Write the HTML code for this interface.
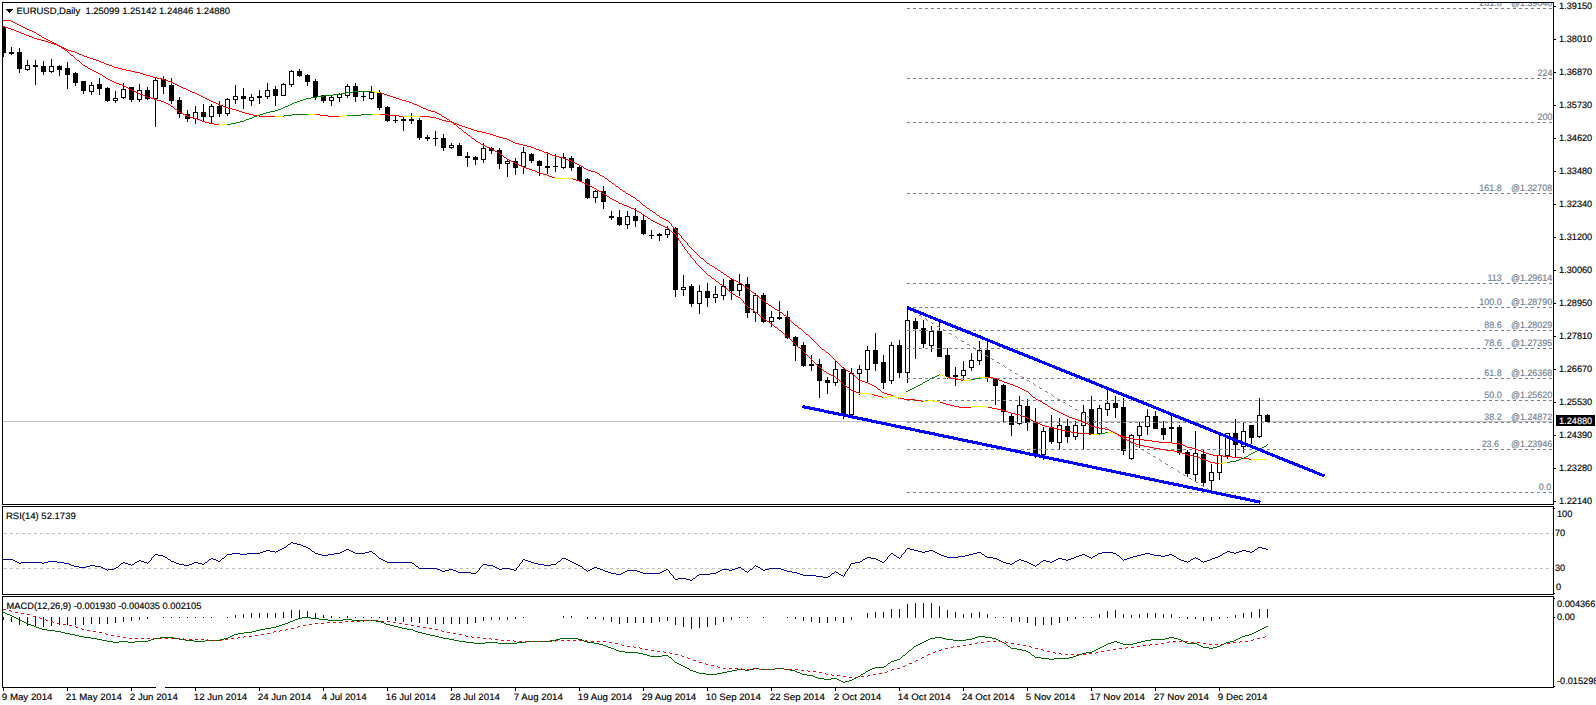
<!DOCTYPE html>
<html lang="en"><head><meta charset="utf-8"><title>EURUSD Daily</title>
<style>html,body{margin:0;padding:0;background:#fff;overflow:hidden}svg{display:block}</style>
</head><body>
<svg width="1596" height="705" viewBox="0 0 1596 705" font-family='"Liberation Sans", sans-serif' shape-rendering="crispEdges" text-rendering="geometricPrecision" stroke-width="0.15">
<rect width="1596" height="705" fill="#fff"/>
<g id="main">
<rect x="3" y="421" width="1551" height="1" fill="#c0c0c0" />
<rect x="3" y="27" width="1" height="30" fill="#000"/>
<rect x="1" y="27" width="5" height="26" fill="#000"/>
<rect x="11" y="47" width="1" height="8" fill="#000"/>
<rect x="9" y="52" width="5" height="2" fill="#000"/>
<rect x="19" y="48" width="1" height="25" fill="#000"/>
<rect x="17" y="52" width="5" height="17" fill="#000"/>
<rect x="27" y="60" width="1" height="11" fill="#000"/>
<rect x="25" y="65" width="5" height="5" fill="#000"/>
<rect x="26" y="66" width="3" height="3" fill="#fff"/>
<rect x="35" y="60" width="1" height="25" fill="#000"/>
<rect x="33" y="65" width="5" height="2" fill="#000"/>
<rect x="43" y="61" width="1" height="14" fill="#000"/>
<rect x="41" y="66" width="5" height="6" fill="#000"/>
<rect x="51" y="59" width="1" height="14" fill="#000"/>
<rect x="49" y="66" width="5" height="6" fill="#000"/>
<rect x="50" y="67" width="3" height="4" fill="#fff"/>
<rect x="59" y="65" width="1" height="11" fill="#000"/>
<rect x="57" y="66" width="5" height="4" fill="#000"/>
<rect x="67" y="62" width="1" height="27" fill="#000"/>
<rect x="65" y="68" width="5" height="7" fill="#000"/>
<rect x="75" y="72" width="1" height="14" fill="#000"/>
<rect x="73" y="73" width="5" height="10" fill="#000"/>
<rect x="83" y="81" width="1" height="13" fill="#000"/>
<rect x="81" y="81" width="5" height="10" fill="#000"/>
<rect x="91" y="82" width="1" height="13" fill="#000"/>
<rect x="89" y="85" width="5" height="7" fill="#000"/>
<rect x="90" y="86" width="3" height="5" fill="#fff"/>
<rect x="99" y="78" width="1" height="17" fill="#000"/>
<rect x="97" y="84" width="5" height="5" fill="#000"/>
<rect x="107" y="87" width="1" height="15" fill="#000"/>
<rect x="105" y="88" width="5" height="13" fill="#000"/>
<rect x="115" y="91" width="1" height="12" fill="#000"/>
<rect x="113" y="98" width="5" height="3" fill="#000"/>
<rect x="114" y="99" width="3" height="1" fill="#fff"/>
<rect x="123" y="83" width="1" height="16" fill="#000"/>
<rect x="121" y="89" width="5" height="9" fill="#000"/>
<rect x="122" y="90" width="3" height="7" fill="#fff"/>
<rect x="131" y="87" width="1" height="15" fill="#000"/>
<rect x="129" y="87" width="5" height="13" fill="#000"/>
<rect x="139" y="84" width="1" height="18" fill="#000"/>
<rect x="137" y="90" width="5" height="10" fill="#000"/>
<rect x="138" y="91" width="3" height="8" fill="#fff"/>
<rect x="147" y="87" width="1" height="13" fill="#000"/>
<rect x="145" y="90" width="5" height="9" fill="#000"/>
<rect x="155" y="77" width="1" height="50" fill="#000"/>
<rect x="153" y="80" width="5" height="19" fill="#000"/>
<rect x="154" y="81" width="3" height="17" fill="#fff"/>
<rect x="163" y="76" width="1" height="18" fill="#000"/>
<rect x="161" y="79" width="5" height="8" fill="#000"/>
<rect x="171" y="78" width="1" height="26" fill="#000"/>
<rect x="169" y="85" width="5" height="16" fill="#000"/>
<rect x="179" y="97" width="1" height="21" fill="#000"/>
<rect x="177" y="100" width="5" height="14" fill="#000"/>
<rect x="187" y="110" width="1" height="12" fill="#000"/>
<rect x="185" y="114" width="5" height="5" fill="#000"/>
<rect x="195" y="106" width="1" height="18" fill="#000"/>
<rect x="193" y="112" width="5" height="7" fill="#000"/>
<rect x="194" y="113" width="3" height="5" fill="#fff"/>
<rect x="203" y="104" width="1" height="17" fill="#000"/>
<rect x="201" y="112" width="5" height="5" fill="#000"/>
<rect x="211" y="104" width="1" height="20" fill="#000"/>
<rect x="209" y="106" width="5" height="11" fill="#000"/>
<rect x="210" y="107" width="3" height="9" fill="#fff"/>
<rect x="219" y="101" width="1" height="16" fill="#000"/>
<rect x="217" y="106" width="5" height="8" fill="#000"/>
<rect x="227" y="98" width="1" height="18" fill="#000"/>
<rect x="225" y="99" width="5" height="15" fill="#000"/>
<rect x="226" y="100" width="3" height="13" fill="#fff"/>
<rect x="235" y="85" width="1" height="19" fill="#000"/>
<rect x="233" y="96" width="5" height="4" fill="#000"/>
<rect x="234" y="97" width="3" height="2" fill="#fff"/>
<rect x="243" y="88" width="1" height="21" fill="#000"/>
<rect x="241" y="96" width="5" height="3" fill="#000"/>
<rect x="251" y="94" width="1" height="12" fill="#000"/>
<rect x="249" y="97" width="5" height="4" fill="#000"/>
<rect x="250" y="98" width="3" height="2" fill="#fff"/>
<rect x="259" y="90" width="1" height="14" fill="#000"/>
<rect x="257" y="96" width="5" height="2" fill="#000"/>
<rect x="267" y="83" width="1" height="16" fill="#000"/>
<rect x="265" y="90" width="5" height="7" fill="#000"/>
<rect x="266" y="91" width="3" height="5" fill="#fff"/>
<rect x="275" y="86" width="1" height="20" fill="#000"/>
<rect x="273" y="89" width="5" height="7" fill="#000"/>
<rect x="283" y="83" width="1" height="13" fill="#000"/>
<rect x="281" y="84" width="5" height="12" fill="#000"/>
<rect x="282" y="85" width="3" height="10" fill="#fff"/>
<rect x="291" y="70" width="1" height="17" fill="#000"/>
<rect x="289" y="71" width="5" height="14" fill="#000"/>
<rect x="290" y="72" width="3" height="12" fill="#fff"/>
<rect x="299" y="69" width="1" height="8" fill="#000"/>
<rect x="297" y="71" width="5" height="5" fill="#000"/>
<rect x="307" y="74" width="1" height="12" fill="#000"/>
<rect x="305" y="75" width="5" height="7" fill="#000"/>
<rect x="315" y="79" width="1" height="21" fill="#000"/>
<rect x="313" y="81" width="5" height="16" fill="#000"/>
<rect x="323" y="95" width="1" height="8" fill="#000"/>
<rect x="321" y="95" width="5" height="6" fill="#000"/>
<rect x="331" y="96" width="1" height="10" fill="#000"/>
<rect x="329" y="97" width="5" height="4" fill="#000"/>
<rect x="330" y="98" width="3" height="2" fill="#fff"/>
<rect x="339" y="93" width="1" height="9" fill="#000"/>
<rect x="337" y="94" width="5" height="4" fill="#000"/>
<rect x="338" y="95" width="3" height="2" fill="#fff"/>
<rect x="347" y="84" width="1" height="14" fill="#000"/>
<rect x="345" y="86" width="5" height="10" fill="#000"/>
<rect x="346" y="87" width="3" height="8" fill="#fff"/>
<rect x="355" y="83" width="1" height="19" fill="#000"/>
<rect x="353" y="86" width="5" height="11" fill="#000"/>
<rect x="363" y="91" width="1" height="10" fill="#000"/>
<rect x="361" y="96" width="5" height="1" fill="#000"/>
<rect x="371" y="86" width="1" height="14" fill="#000"/>
<rect x="369" y="92" width="5" height="7" fill="#000"/>
<rect x="370" y="93" width="3" height="5" fill="#fff"/>
<rect x="379" y="90" width="1" height="20" fill="#000"/>
<rect x="377" y="93" width="5" height="15" fill="#000"/>
<rect x="387" y="106" width="1" height="16" fill="#000"/>
<rect x="385" y="107" width="5" height="14" fill="#000"/>
<rect x="395" y="115" width="1" height="8" fill="#000"/>
<rect x="393" y="120" width="5" height="1" fill="#000"/>
<rect x="403" y="117" width="1" height="14" fill="#000"/>
<rect x="401" y="119" width="5" height="2" fill="#000"/>
<rect x="411" y="113" width="1" height="11" fill="#000"/>
<rect x="409" y="119" width="5" height="2" fill="#000"/>
<rect x="419" y="118" width="1" height="22" fill="#000"/>
<rect x="417" y="120" width="5" height="18" fill="#000"/>
<rect x="427" y="135" width="1" height="6" fill="#000"/>
<rect x="425" y="137" width="5" height="2" fill="#000"/>
<rect x="435" y="131" width="1" height="15" fill="#000"/>
<rect x="433" y="138" width="5" height="1" fill="#000"/>
<rect x="443" y="134" width="1" height="17" fill="#000"/>
<rect x="441" y="138" width="5" height="10" fill="#000"/>
<rect x="451" y="143" width="1" height="6" fill="#000"/>
<rect x="449" y="145" width="5" height="3" fill="#000"/>
<rect x="450" y="146" width="3" height="1" fill="#fff"/>
<rect x="459" y="143" width="1" height="13" fill="#000"/>
<rect x="457" y="145" width="5" height="11" fill="#000"/>
<rect x="467" y="152" width="1" height="15" fill="#000"/>
<rect x="465" y="156" width="5" height="2" fill="#000"/>
<rect x="475" y="156" width="1" height="9" fill="#000"/>
<rect x="473" y="157" width="5" height="3" fill="#000"/>
<rect x="483" y="143" width="1" height="20" fill="#000"/>
<rect x="481" y="148" width="5" height="12" fill="#000"/>
<rect x="482" y="149" width="3" height="10" fill="#fff"/>
<rect x="491" y="147" width="1" height="7" fill="#000"/>
<rect x="489" y="148" width="5" height="3" fill="#000"/>
<rect x="499" y="148" width="1" height="21" fill="#000"/>
<rect x="497" y="150" width="5" height="14" fill="#000"/>
<rect x="507" y="160" width="1" height="17" fill="#000"/>
<rect x="505" y="161" width="5" height="3" fill="#000"/>
<rect x="506" y="162" width="3" height="1" fill="#fff"/>
<rect x="515" y="158" width="1" height="17" fill="#000"/>
<rect x="513" y="161" width="5" height="7" fill="#000"/>
<rect x="523" y="147" width="1" height="27" fill="#000"/>
<rect x="521" y="152" width="5" height="15" fill="#000"/>
<rect x="522" y="153" width="3" height="13" fill="#fff"/>
<rect x="531" y="153" width="1" height="10" fill="#000"/>
<rect x="529" y="154" width="5" height="7" fill="#000"/>
<rect x="539" y="160" width="1" height="16" fill="#000"/>
<rect x="537" y="161" width="5" height="5" fill="#000"/>
<rect x="547" y="152" width="1" height="22" fill="#000"/>
<rect x="545" y="166" width="5" height="2" fill="#000"/>
<rect x="555" y="154" width="1" height="18" fill="#000"/>
<rect x="553" y="166" width="5" height="1" fill="#000"/>
<rect x="563" y="153" width="1" height="16" fill="#000"/>
<rect x="561" y="157" width="5" height="11" fill="#000"/>
<rect x="562" y="158" width="3" height="9" fill="#fff"/>
<rect x="571" y="156" width="1" height="15" fill="#000"/>
<rect x="569" y="158" width="5" height="10" fill="#000"/>
<rect x="579" y="166" width="1" height="15" fill="#000"/>
<rect x="577" y="167" width="5" height="14" fill="#000"/>
<rect x="587" y="178" width="1" height="21" fill="#000"/>
<rect x="585" y="179" width="5" height="19" fill="#000"/>
<rect x="595" y="190" width="1" height="13" fill="#000"/>
<rect x="593" y="191" width="5" height="7" fill="#000"/>
<rect x="594" y="192" width="3" height="5" fill="#fff"/>
<rect x="603" y="186" width="1" height="23" fill="#000"/>
<rect x="601" y="191" width="5" height="11" fill="#000"/>
<rect x="611" y="211" width="1" height="9" fill="#000"/>
<rect x="609" y="216" width="5" height="2" fill="#000"/>
<rect x="619" y="210" width="1" height="16" fill="#000"/>
<rect x="617" y="217" width="5" height="8" fill="#000"/>
<rect x="627" y="211" width="1" height="18" fill="#000"/>
<rect x="625" y="216" width="5" height="9" fill="#000"/>
<rect x="626" y="217" width="3" height="7" fill="#fff"/>
<rect x="635" y="208" width="1" height="19" fill="#000"/>
<rect x="633" y="216" width="5" height="5" fill="#000"/>
<rect x="643" y="215" width="1" height="20" fill="#000"/>
<rect x="641" y="220" width="5" height="14" fill="#000"/>
<rect x="651" y="230" width="1" height="9" fill="#000"/>
<rect x="649" y="235" width="5" height="1" fill="#000"/>
<rect x="659" y="233" width="1" height="8" fill="#000"/>
<rect x="657" y="234" width="5" height="2" fill="#000"/>
<rect x="667" y="226" width="1" height="12" fill="#000"/>
<rect x="665" y="229" width="5" height="6" fill="#000"/>
<rect x="666" y="230" width="3" height="4" fill="#fff"/>
<rect x="675" y="227" width="1" height="70" fill="#000"/>
<rect x="673" y="228" width="5" height="62" fill="#000"/>
<rect x="683" y="275" width="1" height="21" fill="#000"/>
<rect x="681" y="287" width="5" height="3" fill="#000"/>
<rect x="682" y="288" width="3" height="1" fill="#fff"/>
<rect x="691" y="284" width="1" height="23" fill="#000"/>
<rect x="689" y="286" width="5" height="18" fill="#000"/>
<rect x="699" y="285" width="1" height="29" fill="#000"/>
<rect x="697" y="291" width="5" height="13" fill="#000"/>
<rect x="698" y="292" width="3" height="11" fill="#fff"/>
<rect x="707" y="283" width="1" height="24" fill="#000"/>
<rect x="705" y="291" width="5" height="7" fill="#000"/>
<rect x="715" y="286" width="1" height="17" fill="#000"/>
<rect x="713" y="294" width="5" height="4" fill="#000"/>
<rect x="714" y="295" width="3" height="2" fill="#fff"/>
<rect x="723" y="279" width="1" height="21" fill="#000"/>
<rect x="721" y="286" width="5" height="10" fill="#000"/>
<rect x="722" y="287" width="3" height="8" fill="#fff"/>
<rect x="731" y="278" width="1" height="22" fill="#000"/>
<rect x="729" y="280" width="5" height="11" fill="#000"/>
<rect x="739" y="274" width="1" height="22" fill="#000"/>
<rect x="737" y="284" width="5" height="7" fill="#000"/>
<rect x="738" y="285" width="3" height="5" fill="#fff"/>
<rect x="747" y="277" width="1" height="41" fill="#000"/>
<rect x="745" y="284" width="5" height="29" fill="#000"/>
<rect x="755" y="293" width="1" height="29" fill="#000"/>
<rect x="753" y="295" width="5" height="18" fill="#000"/>
<rect x="754" y="296" width="3" height="16" fill="#fff"/>
<rect x="763" y="293" width="1" height="30" fill="#000"/>
<rect x="761" y="295" width="5" height="27" fill="#000"/>
<rect x="771" y="311" width="1" height="16" fill="#000"/>
<rect x="769" y="317" width="5" height="5" fill="#000"/>
<rect x="770" y="318" width="3" height="3" fill="#fff"/>
<rect x="779" y="301" width="1" height="19" fill="#000"/>
<rect x="777" y="317" width="5" height="2" fill="#000"/>
<rect x="787" y="311" width="1" height="28" fill="#000"/>
<rect x="785" y="317" width="5" height="21" fill="#000"/>
<rect x="795" y="336" width="1" height="25" fill="#000"/>
<rect x="793" y="337" width="5" height="9" fill="#000"/>
<rect x="803" y="342" width="1" height="25" fill="#000"/>
<rect x="801" y="345" width="5" height="21" fill="#000"/>
<rect x="811" y="355" width="1" height="16" fill="#000"/>
<rect x="809" y="364" width="5" height="2" fill="#000"/>
<rect x="819" y="359" width="1" height="39" fill="#000"/>
<rect x="817" y="364" width="5" height="17" fill="#000"/>
<rect x="827" y="377" width="1" height="17" fill="#000"/>
<rect x="825" y="380" width="5" height="3" fill="#000"/>
<rect x="835" y="360" width="1" height="26" fill="#000"/>
<rect x="833" y="369" width="5" height="14" fill="#000"/>
<rect x="834" y="370" width="3" height="12" fill="#fff"/>
<rect x="843" y="367" width="1" height="52" fill="#000"/>
<rect x="841" y="369" width="5" height="45" fill="#000"/>
<rect x="851" y="368" width="1" height="47" fill="#000"/>
<rect x="849" y="373" width="5" height="42" fill="#000"/>
<rect x="850" y="374" width="3" height="40" fill="#fff"/>
<rect x="859" y="365" width="1" height="30" fill="#000"/>
<rect x="857" y="369" width="5" height="5" fill="#000"/>
<rect x="858" y="370" width="3" height="3" fill="#fff"/>
<rect x="867" y="346" width="1" height="37" fill="#000"/>
<rect x="865" y="350" width="5" height="20" fill="#000"/>
<rect x="866" y="351" width="3" height="18" fill="#fff"/>
<rect x="875" y="333" width="1" height="38" fill="#000"/>
<rect x="873" y="350" width="5" height="14" fill="#000"/>
<rect x="883" y="355" width="1" height="34" fill="#000"/>
<rect x="881" y="362" width="5" height="21" fill="#000"/>
<rect x="891" y="342" width="1" height="42" fill="#000"/>
<rect x="889" y="345" width="5" height="36" fill="#000"/>
<rect x="890" y="346" width="3" height="34" fill="#fff"/>
<rect x="899" y="340" width="1" height="38" fill="#000"/>
<rect x="897" y="345" width="5" height="28" fill="#000"/>
<rect x="907" y="307" width="1" height="76" fill="#000"/>
<rect x="905" y="320" width="5" height="53" fill="#000"/>
<rect x="906" y="321" width="3" height="51" fill="#fff"/>
<rect x="915" y="318" width="1" height="41" fill="#000"/>
<rect x="913" y="321" width="5" height="8" fill="#000"/>
<rect x="923" y="320" width="1" height="28" fill="#000"/>
<rect x="921" y="328" width="5" height="16" fill="#000"/>
<rect x="931" y="326" width="1" height="26" fill="#000"/>
<rect x="929" y="331" width="5" height="15" fill="#000"/>
<rect x="930" y="332" width="3" height="13" fill="#fff"/>
<rect x="939" y="322" width="1" height="35" fill="#000"/>
<rect x="937" y="331" width="5" height="26" fill="#000"/>
<rect x="947" y="348" width="1" height="31" fill="#000"/>
<rect x="945" y="355" width="5" height="22" fill="#000"/>
<rect x="955" y="367" width="1" height="19" fill="#000"/>
<rect x="953" y="375" width="5" height="2" fill="#000"/>
<rect x="963" y="361" width="1" height="20" fill="#000"/>
<rect x="961" y="370" width="5" height="6" fill="#000"/>
<rect x="962" y="371" width="3" height="4" fill="#fff"/>
<rect x="971" y="353" width="1" height="18" fill="#000"/>
<rect x="969" y="360" width="5" height="8" fill="#000"/>
<rect x="970" y="361" width="3" height="6" fill="#fff"/>
<rect x="979" y="341" width="1" height="24" fill="#000"/>
<rect x="977" y="350" width="5" height="11" fill="#000"/>
<rect x="978" y="351" width="3" height="9" fill="#fff"/>
<rect x="987" y="341" width="1" height="41" fill="#000"/>
<rect x="985" y="350" width="5" height="28" fill="#000"/>
<rect x="995" y="378" width="1" height="27" fill="#000"/>
<rect x="993" y="379" width="5" height="7" fill="#000"/>
<rect x="1003" y="384" width="1" height="39" fill="#000"/>
<rect x="1001" y="385" width="5" height="27" fill="#000"/>
<rect x="1011" y="414" width="1" height="22" fill="#000"/>
<rect x="1009" y="416" width="5" height="9" fill="#000"/>
<rect x="1019" y="396" width="1" height="29" fill="#000"/>
<rect x="1017" y="405" width="5" height="19" fill="#000"/>
<rect x="1018" y="406" width="3" height="17" fill="#fff"/>
<rect x="1027" y="399" width="1" height="32" fill="#000"/>
<rect x="1025" y="406" width="5" height="17" fill="#000"/>
<rect x="1035" y="408" width="1" height="50" fill="#000"/>
<rect x="1033" y="422" width="5" height="32" fill="#000"/>
<rect x="1043" y="427" width="1" height="33" fill="#000"/>
<rect x="1041" y="431" width="5" height="24" fill="#000"/>
<rect x="1042" y="432" width="3" height="22" fill="#fff"/>
<rect x="1051" y="415" width="1" height="29" fill="#000"/>
<rect x="1049" y="427" width="5" height="15" fill="#000"/>
<rect x="1059" y="418" width="1" height="31" fill="#000"/>
<rect x="1057" y="425" width="5" height="18" fill="#000"/>
<rect x="1058" y="426" width="3" height="16" fill="#fff"/>
<rect x="1067" y="419" width="1" height="24" fill="#000"/>
<rect x="1065" y="426" width="5" height="11" fill="#000"/>
<rect x="1075" y="421" width="1" height="19" fill="#000"/>
<rect x="1073" y="425" width="5" height="12" fill="#000"/>
<rect x="1074" y="426" width="3" height="10" fill="#fff"/>
<rect x="1083" y="405" width="1" height="44" fill="#000"/>
<rect x="1081" y="412" width="5" height="14" fill="#000"/>
<rect x="1082" y="413" width="3" height="12" fill="#fff"/>
<rect x="1091" y="396" width="1" height="39" fill="#000"/>
<rect x="1089" y="409" width="5" height="26" fill="#000"/>
<rect x="1099" y="405" width="1" height="29" fill="#000"/>
<rect x="1097" y="408" width="5" height="26" fill="#000"/>
<rect x="1098" y="409" width="3" height="24" fill="#fff"/>
<rect x="1107" y="390" width="1" height="26" fill="#000"/>
<rect x="1105" y="403" width="5" height="7" fill="#000"/>
<rect x="1106" y="404" width="3" height="5" fill="#fff"/>
<rect x="1115" y="396" width="1" height="22" fill="#000"/>
<rect x="1113" y="403" width="5" height="5" fill="#000"/>
<rect x="1123" y="398" width="1" height="57" fill="#000"/>
<rect x="1121" y="407" width="5" height="44" fill="#000"/>
<rect x="1131" y="434" width="1" height="26" fill="#000"/>
<rect x="1129" y="435" width="5" height="24" fill="#000"/>
<rect x="1130" y="436" width="3" height="22" fill="#fff"/>
<rect x="1139" y="422" width="1" height="26" fill="#000"/>
<rect x="1137" y="426" width="5" height="10" fill="#000"/>
<rect x="1138" y="427" width="3" height="8" fill="#fff"/>
<rect x="1147" y="409" width="1" height="26" fill="#000"/>
<rect x="1145" y="416" width="5" height="11" fill="#000"/>
<rect x="1146" y="417" width="3" height="9" fill="#fff"/>
<rect x="1155" y="411" width="1" height="18" fill="#000"/>
<rect x="1153" y="416" width="5" height="13" fill="#000"/>
<rect x="1163" y="421" width="1" height="19" fill="#000"/>
<rect x="1161" y="428" width="5" height="7" fill="#000"/>
<rect x="1171" y="415" width="1" height="28" fill="#000"/>
<rect x="1169" y="427" width="5" height="2" fill="#000"/>
<rect x="1179" y="425" width="1" height="30" fill="#000"/>
<rect x="1177" y="427" width="5" height="26" fill="#000"/>
<rect x="1187" y="450" width="1" height="27" fill="#000"/>
<rect x="1185" y="452" width="5" height="22" fill="#000"/>
<rect x="1195" y="431" width="1" height="50" fill="#000"/>
<rect x="1193" y="453" width="5" height="22" fill="#000"/>
<rect x="1194" y="454" width="3" height="20" fill="#fff"/>
<rect x="1203" y="449" width="1" height="37" fill="#000"/>
<rect x="1201" y="454" width="5" height="29" fill="#000"/>
<rect x="1211" y="464" width="1" height="29" fill="#000"/>
<rect x="1209" y="472" width="5" height="9" fill="#000"/>
<rect x="1210" y="473" width="3" height="7" fill="#fff"/>
<rect x="1219" y="435" width="1" height="45" fill="#000"/>
<rect x="1217" y="455" width="5" height="18" fill="#000"/>
<rect x="1218" y="456" width="3" height="16" fill="#fff"/>
<rect x="1227" y="433" width="1" height="26" fill="#000"/>
<rect x="1225" y="433" width="5" height="23" fill="#000"/>
<rect x="1226" y="434" width="3" height="21" fill="#fff"/>
<rect x="1235" y="419" width="1" height="38" fill="#000"/>
<rect x="1233" y="433" width="5" height="12" fill="#000"/>
<rect x="1243" y="423" width="1" height="30" fill="#000"/>
<rect x="1241" y="431" width="5" height="16" fill="#000"/>
<rect x="1242" y="432" width="3" height="14" fill="#fff"/>
<rect x="1251" y="425" width="1" height="19" fill="#000"/>
<rect x="1249" y="425" width="5" height="13" fill="#000"/>
<rect x="1259" y="398" width="1" height="40" fill="#000"/>
<rect x="1257" y="415" width="5" height="22" fill="#000"/>
<rect x="1258" y="416" width="3" height="20" fill="#fff"/>
<rect x="1267" y="414" width="1" height="8" fill="#000"/>
<rect x="1265" y="415" width="5" height="7" fill="#000"/>
<path d="M907 8.5H1553" stroke="#708090" stroke-width="1" stroke-dasharray="3 3" fill="none"/>
<text transform="translate(1552.2 6) scale(0.97 1)" fill="#708090" stroke="#708090" font-size="9.2" text-anchor="end" >@1.39048</text>
<text transform="translate(1501.6 6) scale(0.97 1)" fill="#708090" stroke="#708090" font-size="9.2" text-anchor="end" >261.8</text>
<path d="M907 78.5H1553" stroke="#708090" stroke-width="1" stroke-dasharray="3 3" fill="none"/>
<text transform="translate(1552.4 76) scale(0.97 1)" fill="#708090" stroke="#708090" font-size="9.2" text-anchor="end" >224</text>
<path d="M907 122.5H1553" stroke="#708090" stroke-width="1" stroke-dasharray="3 3" fill="none"/>
<text transform="translate(1552.4 120) scale(0.97 1)" fill="#708090" stroke="#708090" font-size="9.2" text-anchor="end" >200</text>
<path d="M907 193.5H1553" stroke="#708090" stroke-width="1" stroke-dasharray="3 3" fill="none"/>
<text transform="translate(1552.2 191) scale(0.97 1)" fill="#708090" stroke="#708090" font-size="9.2" text-anchor="end" >@1.32708</text>
<text transform="translate(1501.6 191) scale(0.97 1)" fill="#708090" stroke="#708090" font-size="9.2" text-anchor="end" >161.8</text>
<path d="M907 283.5H1553" stroke="#708090" stroke-width="1" stroke-dasharray="3 3" fill="none"/>
<text transform="translate(1552.2 281) scale(0.97 1)" fill="#708090" stroke="#708090" font-size="9.2" text-anchor="end" >@1.29614</text>
<text transform="translate(1501.6 281) scale(0.97 1)" fill="#708090" stroke="#708090" font-size="9.2" text-anchor="end" >113</text>
<path d="M907 307.5H1553" stroke="#708090" stroke-width="1" stroke-dasharray="3 3" fill="none"/>
<text transform="translate(1552.2 305) scale(0.97 1)" fill="#708090" stroke="#708090" font-size="9.2" text-anchor="end" >@1.28790</text>
<text transform="translate(1501.6 305) scale(0.97 1)" fill="#708090" stroke="#708090" font-size="9.2" text-anchor="end" >100.0</text>
<path d="M907 330.5H1553" stroke="#708090" stroke-width="1" stroke-dasharray="3 3" fill="none"/>
<text transform="translate(1552.2 328) scale(0.97 1)" fill="#708090" stroke="#708090" font-size="9.2" text-anchor="end" >@1.28029</text>
<text transform="translate(1501.6 328) scale(0.97 1)" fill="#708090" stroke="#708090" font-size="9.2" text-anchor="end" >88.6</text>
<path d="M907 348.5H1553" stroke="#708090" stroke-width="1" stroke-dasharray="3 3" fill="none"/>
<text transform="translate(1552.2 346) scale(0.97 1)" fill="#708090" stroke="#708090" font-size="9.2" text-anchor="end" >@1.27395</text>
<text transform="translate(1501.6 346) scale(0.97 1)" fill="#708090" stroke="#708090" font-size="9.2" text-anchor="end" >78.6</text>
<path d="M907 378.5H1553" stroke="#708090" stroke-width="1" stroke-dasharray="3 3" fill="none"/>
<text transform="translate(1552.2 376) scale(0.97 1)" fill="#708090" stroke="#708090" font-size="9.2" text-anchor="end" >@1.26368</text>
<text transform="translate(1501.6 376) scale(0.97 1)" fill="#708090" stroke="#708090" font-size="9.2" text-anchor="end" >61.8</text>
<path d="M907 400.5H1553" stroke="#708090" stroke-width="1" stroke-dasharray="3 3" fill="none"/>
<text transform="translate(1552.2 398) scale(0.97 1)" fill="#708090" stroke="#708090" font-size="9.2" text-anchor="end" >@1.25620</text>
<text transform="translate(1501.6 398) scale(0.97 1)" fill="#708090" stroke="#708090" font-size="9.2" text-anchor="end" >50.0</text>
<path d="M907 422.5H1553" stroke="#708090" stroke-width="1" stroke-dasharray="3 3" fill="none"/>
<text transform="translate(1552.2 420) scale(0.97 1)" fill="#708090" stroke="#708090" font-size="9.2" text-anchor="end" >@1.24872</text>
<text transform="translate(1501.6 420) scale(0.97 1)" fill="#708090" stroke="#708090" font-size="9.2" text-anchor="end" >38.2</text>
<path d="M907 449.5H1553" stroke="#708090" stroke-width="1" stroke-dasharray="3 3" fill="none"/>
<text transform="translate(1552.2 447) scale(0.97 1)" fill="#708090" stroke="#708090" font-size="9.2" text-anchor="end" >@1.23946</text>
<text transform="translate(1499 447) scale(0.97 1)" fill="#708090" stroke="#708090" font-size="9.2" text-anchor="end" >23.6</text>
<path d="M907 492.5H1553" stroke="#708090" stroke-width="1" stroke-dasharray="3 3" fill="none"/>
<text transform="translate(1551.2 490) scale(0.97 1)" fill="#708090" stroke="#708090" font-size="9.2" text-anchor="end" >0.0</text>
<path d="M907 308.5h2M909 309.5h1M913 311.5h1M914 312.5h2M919 315.5h2M921 316.5h1M925 318.5h1M926 319.5h1M927 320.5h1M931 322.5h1M932 323.5h2M937 326.5h2M939 327.5h1M943 329.5h1M944 330.5h2M949 333.5h2M951 334.5h1M955 336.5h1M956 337.5h1M957 338.5h1M961 340.5h1M962 341.5h2M967 344.5h2M969 345.5h1M973 347.5h1M974 348.5h1M975 349.5h1M979 351.5h1M980 352.5h2M985 355.5h2M987 356.5h1M991 358.5h1M992 359.5h2M997 362.5h2M999 363.5h1M1003 365.5h1M1004 366.5h1M1005 367.5h1M1009 369.5h1M1010 370.5h2M1015 373.5h2M1017 374.5h1M1021 376.5h1M1022 377.5h2M1027 380.5h2M1029 381.5h1M1033 383.5h1M1034 384.5h1M1035 385.5h1M1039 387.5h1M1040 388.5h2M1045 391.5h2M1047 392.5h1M1051 394.5h1M1052 395.5h1M1053 396.5h1M1057 398.5h1M1058 399.5h2M1063 402.5h2M1065 403.5h1M1069 405.5h1M1070 406.5h2M1075 409.5h2M1077 410.5h1M1081 412.5h1M1082 413.5h1M1083 414.5h1M1087 416.5h1M1088 417.5h2M1093 420.5h2M1095 421.5h1M1099 423.5h1M1100 424.5h2M1105 427.5h2M1107 428.5h1M1111 431.5h2M1113 432.5h1M1117 434.5h1M1118 435.5h2M1123 438.5h2M1125 439.5h1M1129 441.5h1M1130 442.5h1M1131 443.5h1M1135 445.5h1M1136 446.5h2M1141 449.5h2M1143 450.5h1M1147 452.5h1M1148 453.5h2M1153 456.5h2M1155 457.5h1M1159 459.5h1M1160 460.5h1M1161 461.5h1M1165 463.5h1M1166 464.5h2M1171 467.5h2M1173 468.5h1M1177 470.5h1M1178 471.5h1M1179 472.5h1M1183 474.5h1M1184 475.5h2M1189 478.5h2M1191 479.5h1M1195 481.5h1M1196 482.5h2M1201 485.5h2M1203 486.5h1M1207 488.5h1M1208 489.5h1M1209 490.5h1M1213 492.5h1" stroke="#808080" stroke-width="1" fill="none"/>
<path d="M3 20.5h8M11 21.5h2M13 22.5h2M15 23.5h2M17 24.5h2M19 25.5h2M21 26.5h2M23 27.5h2M25 28.5h2M27 29.5h2M29 30.5h3M32 31.5h2M34 32.5h2M36 33.5h1M37 34.5h2M39 35.5h2M41 36.5h1M42 37.5h2M44 38.5h2M46 39.5h2M48 40.5h2M50 41.5h2M52 42.5h2M54 43.5h2M56 44.5h2M58 45.5h2M60 46.5h2M62 47.5h2M64 48.5h2M66 49.5h2M68 50.5h3M71 51.5h4M75 52.5h2M77 53.5h2M79 54.5h3M82 55.5h2M84 56.5h3M87 57.5h3M90 58.5h3M93 59.5h3M96 60.5h3M99 61.5h2M101 62.5h3M104 63.5h2M106 64.5h3M109 65.5h3M112 66.5h2M114 67.5h4M118 68.5h4M122 69.5h4M126 70.5h5M131 71.5h4M135 72.5h5M140 73.5h3M143 74.5h3M146 75.5h4M150 76.5h3M153 77.5h4M157 78.5h5M162 79.5h3M165 80.5h3M168 81.5h3M171 82.5h2M173 83.5h2M175 84.5h2M177 85.5h2M179 86.5h2M181 87.5h2M183 88.5h3M186 89.5h2M188 90.5h2M190 91.5h2M192 92.5h3M195 93.5h2M197 94.5h2M199 95.5h2M201 96.5h2M203 97.5h2M205 98.5h2M207 99.5h2M209 100.5h2M211 101.5h2M213 102.5h3M216 103.5h2M218 104.5h2M220 105.5h3M223 106.5h2M225 107.5h3M228 108.5h4M232 109.5h4M236 110.5h3M239 111.5h3M242 112.5h3M245 113.5h4M249 114.5h4M315 114.5h5M379 114.5h9M253 115.5h6M320 115.5h8M388 115.5h11M259 116.5h17M328 116.5h12M399 116.5h5M419 116.5h11M430 117.5h6M436 118.5h3M439 119.5h3M442 120.5h4M446 121.5h5M451 122.5h3M454 123.5h3M457 124.5h2M459 125.5h3M462 126.5h3M465 127.5h3M468 128.5h3M471 129.5h3M474 130.5h3M477 131.5h5M482 132.5h4M486 133.5h4M490 134.5h3M493 135.5h3M496 136.5h3M499 137.5h4M503 138.5h4M507 139.5h2M509 140.5h2M511 141.5h2M513 142.5h2M515 143.5h4M519 144.5h4M523 145.5h4M527 146.5h4M531 147.5h3M534 148.5h2M536 149.5h3M539 150.5h3M542 151.5h2M544 152.5h3M547 153.5h3M550 154.5h2M552 155.5h3M555 156.5h4M559 157.5h4M563 158.5h3M566 159.5h2M568 160.5h3M571 161.5h2M573 162.5h2M575 163.5h2M577 164.5h2M579 165.5h2M581 166.5h2M583 167.5h1M584 168.5h2M586 169.5h2M588 170.5h3M591 171.5h4M595 172.5h2M597 173.5h2M599 174.5h1M600 175.5h2M602 176.5h2M604 177.5h1M605 178.5h2M607 179.5h1M608 180.5h1M609 181.5h2M611 182.5h1M612 183.5h2M614 184.5h1M615 185.5h1M616 186.5h2M618 187.5h1M619 188.5h1M620 189.5h2M622 190.5h1M623 191.5h2M625 192.5h1M626 193.5h2M628 194.5h2M630 195.5h1M631 196.5h2M633 197.5h2M635 198.5h1M636 199.5h1M637 200.5h2M639 201.5h1M640 202.5h1M641 203.5h1M642 204.5h1M643 205.5h2M645 206.5h1M646 207.5h1M647 208.5h2M649 209.5h1M650 210.5h2M652 211.5h1M653 212.5h2M655 213.5h1M656 214.5h1M657 215.5h2M659 216.5h1M660 217.5h2M662 218.5h2M664 219.5h2M666 220.5h2M668 221.5h1M669 222.5h1M670 223.5h1M671 224.5h1M671 225.5h1M672 226.5h1M673 227.5h1M674 228.5h1M675 229.5h1M676 230.5h1M677 231.5h1M677 232.5h1M678 233.5h1M679 234.5h1M680 235.5h1M681 236.5h1M681 237.5h1M682 238.5h1M683 239.5h1M684 240.5h1M685 241.5h1M686 242.5h1M687 243.5h1M687 244.5h1M688 245.5h1M689 246.5h1M690 247.5h1M691 248.5h1M692 249.5h1M693 250.5h1M694 251.5h1M695 252.5h1M696 253.5h1M697 254.5h1M698 255.5h1M699 256.5h1M700 257.5h1M701 258.5h2M703 259.5h1M704 260.5h1M705 261.5h1M706 262.5h1M707 263.5h2M709 264.5h1M710 265.5h2M712 266.5h2M714 267.5h1M715 268.5h2M717 269.5h1M718 270.5h2M720 271.5h1M721 272.5h2M723 273.5h1M724 274.5h2M726 275.5h1M727 276.5h2M729 277.5h1M730 278.5h2M732 279.5h2M734 280.5h2M736 281.5h2M738 282.5h2M740 283.5h2M742 284.5h1M743 285.5h1M744 286.5h2M746 287.5h1M747 288.5h2M749 289.5h1M750 290.5h1M751 291.5h1M752 292.5h2M754 293.5h1M755 294.5h1M756 295.5h1M757 296.5h2M759 297.5h1M760 298.5h1M761 299.5h1M762 300.5h2M764 301.5h1M765 302.5h1M766 303.5h2M768 304.5h1M769 305.5h2M771 306.5h1M772 307.5h2M774 308.5h1M775 309.5h2M777 310.5h2M779 311.5h1M780 312.5h2M782 313.5h1M783 314.5h1M784 315.5h2M786 316.5h1M787 317.5h1M788 318.5h1M789 319.5h1M790 320.5h1M791 321.5h1M792 322.5h1M793 323.5h1M794 324.5h1M795 325.5h2M797 326.5h1M798 327.5h1M799 328.5h2M801 329.5h1M802 330.5h1M803 331.5h1M804 332.5h1M805 333.5h1M806 334.5h2M808 335.5h1M809 336.5h1M810 337.5h1M811 338.5h1M812 339.5h1M813 340.5h1M814 341.5h1M815 342.5h1M816 343.5h1M817 344.5h1M818 345.5h1M819 346.5h1M820 347.5h1M821 348.5h1M822 349.5h2M824 350.5h1M825 351.5h1M826 352.5h2M828 353.5h1M829 354.5h1M830 355.5h1M831 356.5h1M832 357.5h1M833 358.5h1M834 359.5h1M835 360.5h1M836 361.5h1M837 362.5h1M838 363.5h1M839 364.5h1M840 365.5h1M841 366.5h1M842 367.5h1M843 368.5h2M845 369.5h1M846 370.5h2M848 371.5h2M850 372.5h1M851 373.5h1M852 374.5h2M854 375.5h1M855 376.5h1M856 377.5h1M857 378.5h1M858 379.5h1M859 380.5h3M862 381.5h3M865 382.5h3M868 383.5h2M870 384.5h2M872 385.5h2M874 386.5h2M876 387.5h1M877 388.5h1M878 389.5h2M880 390.5h1M881 391.5h1M882 392.5h2M884 393.5h3M887 394.5h4M891 395.5h2M893 396.5h2M895 397.5h3M898 398.5h6M904 399.5h11M915 400.5h6M921 401.5h3M939 402.5h4M943 403.5h3M946 404.5h4M950 405.5h4M954 406.5h5M959 407.5h13M987 407.5h5M992 408.5h5M997 409.5h4M1001 410.5h4M1005 411.5h3M1008 412.5h3M1011 413.5h4M1015 414.5h5M1020 415.5h2M1022 416.5h3M1025 417.5h2M1027 418.5h2M1029 419.5h2M1031 420.5h2M1033 421.5h2M1035 422.5h2M1037 423.5h3M1040 424.5h2M1042 425.5h3M1045 426.5h4M1049 427.5h4M1053 428.5h5M1058 429.5h4M1062 430.5h4M1066 431.5h5M1071 432.5h6M1077 433.5h13M1115 433.5h2M1090 434.5h2M1117 434.5h2M1119 435.5h3M1122 436.5h3M1125 437.5h4M1129 438.5h5M1134 439.5h10M1144 440.5h8M1152 441.5h7M1159 442.5h13M1172 443.5h8M1180 444.5h3M1183 445.5h2M1185 446.5h2M1187 447.5h5M1192 448.5h4M1196 449.5h2M1198 450.5h3M1201 451.5h2M1203 452.5h3M1206 453.5h3M1209 454.5h4M1213 455.5h10M1223 456.5h9M1232 457.5h10M1242 458.5h7M1249 459.5h3" stroke="#ff0000" stroke-width="1" fill="none"/>
<path d="M307 114.5h9M371 114.5h9M343 115.5h5M275 116.5h9M339 116.5h4M403 116.5h17M928 400.5h5M923 401.5h5M933 401.5h6M939 402.5h1M972 406.5h15M971 407.5h1M987 407.5h1M1107 432.5h6M1113 433.5h3M1091 434.5h9M1251 459.5h17" stroke="#ffff00" stroke-width="1" fill="none"/>
<path d="M292 114.5h16M361 114.5h11M284 115.5h8M347 115.5h14M283 116.5h1M1105 432.5h3M1100 433.5h5M1099 434.5h1" stroke="#008000" stroke-width="1" fill="none"/>
<path d="M3 26.5h2M5 27.5h3M8 28.5h3M11 29.5h3M14 30.5h2M16 31.5h3M19 32.5h2M21 33.5h3M24 34.5h2M26 35.5h3M29 36.5h3M32 37.5h2M34 38.5h3M37 39.5h4M41 40.5h4M45 41.5h3M48 42.5h3M51 43.5h3M54 44.5h3M57 45.5h2M59 46.5h2M61 47.5h1M62 48.5h2M64 49.5h1M65 50.5h2M67 51.5h1M68 52.5h1M69 53.5h1M70 54.5h1M71 55.5h2M73 56.5h1M74 57.5h1M75 58.5h1M76 59.5h1M77 60.5h2M79 61.5h1M80 62.5h1M81 63.5h1M82 64.5h1M83 65.5h2M85 66.5h2M87 67.5h1M88 68.5h2M90 69.5h2M92 70.5h2M94 71.5h2M96 72.5h2M98 73.5h2M100 74.5h2M102 75.5h1M103 76.5h2M105 77.5h1M106 78.5h2M108 79.5h2M110 80.5h2M112 81.5h2M114 82.5h2M116 83.5h3M119 84.5h3M122 85.5h2M124 86.5h2M126 87.5h2M128 88.5h2M130 89.5h2M132 90.5h2M134 91.5h2M136 92.5h2M379 92.5h2M138 93.5h2M381 93.5h3M140 94.5h3M384 94.5h3M143 95.5h2M387 95.5h3M145 96.5h2M390 96.5h3M147 97.5h4M393 97.5h3M151 98.5h3M396 98.5h3M154 99.5h3M399 99.5h3M157 100.5h4M402 100.5h4M161 101.5h3M406 101.5h3M164 102.5h2M409 102.5h3M166 103.5h2M412 103.5h2M168 104.5h2M414 104.5h3M170 105.5h1M417 105.5h2M171 106.5h2M419 106.5h2M173 107.5h1M421 107.5h2M174 108.5h1M423 108.5h3M175 109.5h2M426 109.5h2M177 110.5h1M428 110.5h3M178 111.5h1M431 111.5h4M179 112.5h2M435 112.5h2M181 113.5h2M437 113.5h2M183 114.5h2M439 114.5h2M185 115.5h2M441 115.5h1M187 116.5h3M442 116.5h2M190 117.5h4M444 117.5h2M194 118.5h3M446 118.5h1M197 119.5h3M447 119.5h2M200 120.5h2M449 120.5h1M202 121.5h3M450 121.5h2M205 122.5h4M452 122.5h1M209 123.5h5M453 123.5h1M214 124.5h5M454 124.5h2M219 125.5h1M456 125.5h1M457 126.5h1M458 127.5h1M459 128.5h2M461 129.5h1M462 130.5h1M463 131.5h1M464 132.5h2M466 133.5h1M467 134.5h1M468 135.5h2M470 136.5h1M471 137.5h1M472 138.5h2M474 139.5h1M475 140.5h1M476 141.5h2M478 142.5h2M480 143.5h1M481 144.5h2M483 145.5h2M485 146.5h2M487 147.5h3M490 148.5h2M492 149.5h1M493 150.5h2M495 151.5h2M497 152.5h2M499 153.5h1M500 154.5h2M502 155.5h1M503 156.5h1M504 157.5h2M506 158.5h1M507 159.5h2M509 160.5h2M511 161.5h2M513 162.5h2M515 163.5h2M517 164.5h2M519 165.5h2M521 166.5h2M523 167.5h3M526 168.5h3M529 169.5h3M532 170.5h3M535 171.5h2M537 172.5h3M540 173.5h3M543 174.5h4M547 175.5h2M549 176.5h3M552 177.5h3M555 178.5h1M571 178.5h2M573 179.5h3M576 180.5h3M579 181.5h3M582 182.5h2M584 183.5h2M586 184.5h2M588 185.5h2M590 186.5h2M592 187.5h2M594 188.5h2M596 189.5h1M597 190.5h2M599 191.5h2M601 192.5h1M602 193.5h2M604 194.5h2M606 195.5h1M607 196.5h2M609 197.5h1M610 198.5h2M612 199.5h2M614 200.5h2M616 201.5h2M618 202.5h1M619 203.5h3M622 204.5h2M624 205.5h3M627 206.5h2M629 207.5h2M631 208.5h3M634 209.5h2M636 210.5h1M637 211.5h2M639 212.5h2M641 213.5h1M642 214.5h2M644 215.5h1M645 216.5h2M647 217.5h1M648 218.5h2M650 219.5h1M651 220.5h2M653 221.5h2M655 222.5h2M657 223.5h2M659 224.5h2M661 225.5h2M663 226.5h2M665 227.5h2M667 228.5h2M669 229.5h1M670 230.5h1M671 231.5h1M672 232.5h2M674 233.5h1M675 234.5h1M676 235.5h1M676 236.5h1M677 237.5h1M678 238.5h1M678 239.5h1M679 240.5h1M680 241.5h1M680 242.5h1M681 243.5h1M682 244.5h1M682 245.5h1M683 246.5h1M684 247.5h1M684 248.5h1M685 249.5h1M686 250.5h1M687 251.5h1M687 252.5h1M688 253.5h1M689 254.5h1M690 255.5h1M690 256.5h1M691 257.5h1M692 258.5h1M693 259.5h1M694 260.5h1M695 261.5h1M695 262.5h1M696 263.5h1M697 264.5h1M698 265.5h1M699 266.5h1M700 267.5h1M701 268.5h1M702 269.5h1M703 270.5h1M704 271.5h1M705 272.5h1M706 273.5h1M707 274.5h1M708 275.5h2M710 276.5h1M711 277.5h1M712 278.5h2M714 279.5h1M715 280.5h1M716 281.5h2M718 282.5h1M719 283.5h1M720 284.5h2M722 285.5h1M723 286.5h1M724 287.5h1M725 288.5h2M727 289.5h1M728 290.5h1M729 291.5h1M730 292.5h1M731 293.5h2M733 294.5h2M735 295.5h1M736 296.5h2M738 297.5h2M740 298.5h1M741 299.5h1M742 300.5h1M743 301.5h1M743 302.5h1M744 303.5h1M745 304.5h1M746 305.5h1M747 306.5h1M748 307.5h2M750 308.5h1M751 309.5h2M753 310.5h1M754 311.5h1M755 312.5h2M757 313.5h1M758 314.5h1M759 315.5h1M760 316.5h2M762 317.5h1M763 318.5h1M764 319.5h2M766 320.5h1M767 321.5h2M769 322.5h1M770 323.5h1M771 324.5h2M773 325.5h1M774 326.5h1M775 327.5h2M777 328.5h1M778 329.5h1M779 330.5h2M781 331.5h1M782 332.5h1M783 333.5h1M784 334.5h2M786 335.5h1M787 336.5h1M788 337.5h1M789 338.5h1M790 339.5h1M791 340.5h1M792 341.5h1M793 342.5h1M794 343.5h1M795 344.5h1M796 345.5h1M797 346.5h1M798 347.5h2M800 348.5h1M801 349.5h1M802 350.5h1M803 351.5h1M804 352.5h1M805 353.5h1M806 354.5h1M807 355.5h1M808 356.5h1M809 357.5h1M810 358.5h1M811 359.5h1M812 360.5h1M813 361.5h1M814 362.5h1M815 363.5h1M816 364.5h1M817 365.5h1M818 366.5h1M819 367.5h2M821 368.5h1M822 369.5h1M823 370.5h1M824 371.5h2M826 372.5h1M827 373.5h2M829 374.5h2M831 375.5h2M833 376.5h2M835 377.5h1M947 377.5h4M987 377.5h6M836 378.5h1M951 378.5h5M993 378.5h4M837 379.5h2M956 379.5h5M997 379.5h2M839 380.5h1M961 380.5h3M999 380.5h3M840 381.5h1M1002 381.5h2M841 382.5h1M1004 382.5h3M842 383.5h1M1007 383.5h3M843 384.5h1M1010 384.5h3M844 385.5h2M1013 385.5h2M846 386.5h1M1015 386.5h3M847 387.5h2M1018 387.5h2M849 388.5h1M1020 388.5h2M850 389.5h1M1022 389.5h2M851 390.5h3M1024 390.5h2M854 391.5h2M1026 391.5h2M856 392.5h3M1028 392.5h1M859 393.5h1M1029 393.5h1M871 394.5h3M1030 394.5h1M874 395.5h4M1031 395.5h1M878 396.5h4M1032 396.5h1M882 397.5h2M1033 397.5h2M1035 398.5h1M1036 399.5h2M1038 400.5h2M1040 401.5h2M1042 402.5h1M1043 403.5h2M1045 404.5h2M1047 405.5h1M1048 406.5h2M1050 407.5h1M1051 408.5h2M1053 409.5h2M1055 410.5h2M1057 411.5h2M1059 412.5h2M1061 413.5h2M1063 414.5h2M1065 415.5h2M1067 416.5h2M1069 417.5h3M1072 418.5h3M1075 419.5h3M1078 420.5h3M1081 421.5h3M1084 422.5h2M1086 423.5h2M1088 424.5h2M1090 425.5h1M1091 426.5h4M1095 427.5h4M1099 428.5h6M1105 429.5h4M1109 430.5h2M1111 431.5h2M1113 432.5h2M1115 433.5h2M1117 434.5h1M1118 435.5h2M1120 436.5h2M1122 437.5h2M1124 438.5h1M1125 439.5h2M1127 440.5h2M1129 441.5h2M1131 442.5h2M1133 443.5h3M1136 444.5h3M1139 445.5h5M1144 446.5h5M1149 447.5h5M1154 448.5h6M1160 449.5h6M1166 450.5h8M1174 451.5h5M1179 452.5h3M1182 453.5h3M1185 454.5h3M1188 455.5h5M1193 456.5h4M1197 457.5h3M1200 458.5h2M1202 459.5h3M1205 460.5h3M1208 461.5h2M1210 462.5h5M1215 463.5h5" stroke="#ff0000" stroke-width="1" fill="none"/>
<path d="M371 91.5h4M375 92.5h5M221 124.5h7M219 125.5h2M555 178.5h17M939 374.5h1M940 375.5h3M943 376.5h3M946 377.5h2M979 377.5h9M970 379.5h2M963 380.5h7M906 391.5h1M905 392.5h1M859 393.5h11M904 393.5h1M870 394.5h2M903 394.5h1M902 395.5h1M887 396.5h8M901 396.5h1M883 397.5h4M895 397.5h4M900 397.5h1M899 398.5h1M1224 462.5h4M1219 463.5h5" stroke="#ffff00" stroke-width="1" fill="none"/>
<path d="M353 91.5h19M346 92.5h7M341 93.5h5M333 94.5h8M324 95.5h9M317 96.5h7M311 97.5h6M306 98.5h5M303 99.5h3M300 100.5h3M297 101.5h3M294 102.5h3M292 103.5h2M290 104.5h2M288 105.5h2M285 106.5h3M283 107.5h2M281 108.5h2M278 109.5h3M275 110.5h3M270 111.5h5M266 112.5h4M263 113.5h3M260 114.5h3M257 115.5h3M254 116.5h3M252 117.5h2M249 118.5h3M246 119.5h3M244 120.5h2M240 121.5h4M236 122.5h4M231 123.5h5M227 124.5h4M939 374.5h1M937 375.5h2M935 376.5h2M932 377.5h3M979 377.5h1M930 378.5h2M975 378.5h4M929 379.5h1M971 379.5h4M927 380.5h2M925 381.5h2M923 382.5h2M922 383.5h1M920 384.5h2M918 385.5h2M916 386.5h2M914 387.5h2M912 388.5h2M910 389.5h2M908 390.5h2M906 391.5h2M1267 444.5h1M1266 445.5h1M1264 446.5h2M1262 447.5h2M1260 448.5h2M1258 449.5h2M1257 450.5h1M1255 451.5h2M1253 452.5h2M1251 453.5h2M1249 454.5h2M1248 455.5h1M1246 456.5h2M1244 457.5h2M1241 458.5h3M1239 459.5h2M1236 460.5h3M1230 461.5h6M1227 462.5h3" stroke="#008000" stroke-width="1" fill="none"/>
<g>
<path d="M907 307.5L1324.5 476" stroke="#0000ff" stroke-width="3.1" fill="none"/>
<path d="M802.5 406.5L1260.5 502.2" stroke="#0000ff" stroke-width="3.1" fill="none"/>
</g>
</g>
<path d="M5.5 9h8l-4 4z" fill="#000"/>
<text transform="translate(16.5 14) scale(1.03 1)" fill="#000" stroke="#000" font-size="9.2" text-anchor="start" >EURUSD,Daily&#160;&#160;1.25099 1.25142 1.24846 1.24880</text>
<g id="rsi">
<path d="M4 533.5H1553" stroke="#c0c0c0" stroke-width="1" stroke-dasharray="3 3" fill="none"/>
<path d="M4 568.5H1553" stroke="#c0c0c0" stroke-width="1" stroke-dasharray="3 3" fill="none"/>
<path d="M291 542.5h2M290 543.5h1M293 543.5h4M288 544.5h2M297 544.5h4M287 545.5h1M301 545.5h2M286 546.5h1M303 546.5h3M284 547.5h2M306 547.5h2M1258 547.5h4M282 548.5h2M308 548.5h2M907 548.5h3M1257 548.5h1M1262 548.5h4M280 549.5h2M310 549.5h1M346 549.5h3M906 549.5h1M910 549.5h4M1255 549.5h2M1266 549.5h2M266 550.5h4M278 550.5h2M311 550.5h1M344 550.5h2M349 550.5h2M905 550.5h1M914 550.5h4M929 550.5h4M1242 550.5h4M1254 550.5h1M263 551.5h3M270 551.5h5M276 551.5h2M312 551.5h2M342 551.5h2M351 551.5h2M369 551.5h3M905 551.5h1M918 551.5h4M925 551.5h4M933 551.5h2M1227 551.5h3M1239 551.5h3M1246 551.5h4M1252 551.5h2M260 552.5h3M275 552.5h1M314 552.5h1M340 552.5h2M353 552.5h2M365 552.5h4M372 552.5h1M904 552.5h1M922 552.5h3M935 552.5h2M977 552.5h4M1102 552.5h11M1225 552.5h2M1230 552.5h4M1236 552.5h3M1250 552.5h2M232 553.5h8M247 553.5h13M315 553.5h3M334 553.5h6M355 553.5h10M373 553.5h2M891 553.5h2M903 553.5h1M937 553.5h2M973 553.5h4M981 553.5h1M1098 553.5h4M1113 553.5h3M1145 553.5h5M1223 553.5h2M1234 553.5h2M155 554.5h3M227 554.5h5M240 554.5h7M318 554.5h4M328 554.5h6M375 554.5h1M890 554.5h1M893 554.5h1M902 554.5h1M939 554.5h2M969 554.5h4M982 554.5h2M1082 554.5h3M1097 554.5h1M1116 554.5h1M1141 554.5h4M1150 554.5h4M1169 554.5h3M1222 554.5h1M154 555.5h1M158 555.5h5M226 555.5h1M322 555.5h6M376 555.5h1M889 555.5h1M894 555.5h2M901 555.5h1M941 555.5h3M965 555.5h4M984 555.5h1M1079 555.5h3M1085 555.5h2M1095 555.5h2M1117 555.5h2M1137 555.5h4M1154 555.5h7M1165 555.5h4M1172 555.5h2M1220 555.5h2M153 556.5h1M163 556.5h2M225 556.5h1M377 556.5h1M888 556.5h1M896 556.5h1M901 556.5h1M944 556.5h3M958 556.5h7M985 556.5h2M1076 556.5h3M1087 556.5h2M1093 556.5h2M1119 556.5h1M1133 556.5h4M1161 556.5h4M1174 556.5h2M1218 556.5h2M152 557.5h1M165 557.5h2M224 557.5h1M378 557.5h1M867 557.5h4M887 557.5h1M897 557.5h2M900 557.5h1M947 557.5h11M987 557.5h6M1074 557.5h2M1089 557.5h2M1092 557.5h1M1120 557.5h1M1130 557.5h3M1176 557.5h1M1195 557.5h1M1215 557.5h3M151 558.5h1M167 558.5h1M211 558.5h2M222 558.5h2M379 558.5h2M562 558.5h4M865 558.5h2M871 558.5h5M887 558.5h1M899 558.5h1M993 558.5h4M1058 558.5h4M1071 558.5h3M1091 558.5h1M1121 558.5h1M1127 558.5h3M1177 558.5h2M1193 558.5h2M1196 558.5h2M1212 558.5h3M3 559.5h10M151 559.5h1M168 559.5h2M209 559.5h2M213 559.5h3M221 559.5h1M381 559.5h2M523 559.5h2M561 559.5h1M566 559.5h2M863 559.5h2M876 559.5h2M886 559.5h1M997 559.5h2M1019 559.5h2M1056 559.5h2M1062 559.5h4M1068 559.5h3M1122 559.5h1M1124 559.5h3M1179 559.5h2M1191 559.5h2M1198 559.5h2M1210 559.5h2M13 560.5h2M139 560.5h2M150 560.5h1M170 560.5h1M208 560.5h1M216 560.5h2M220 560.5h1M383 560.5h2M522 560.5h1M525 560.5h3M560 560.5h1M568 560.5h2M862 560.5h1M878 560.5h2M885 560.5h1M999 560.5h2M1017 560.5h2M1021 560.5h3M1043 560.5h3M1054 560.5h2M1066 560.5h2M1123 560.5h1M1181 560.5h3M1190 560.5h1M1200 560.5h1M1207 560.5h3M15 561.5h2M48 561.5h9M137 561.5h2M141 561.5h3M149 561.5h1M171 561.5h3M207 561.5h1M218 561.5h2M385 561.5h2M522 561.5h1M528 561.5h3M558 561.5h2M570 561.5h2M860 561.5h2M880 561.5h2M884 561.5h1M1001 561.5h2M1015 561.5h2M1024 561.5h3M1041 561.5h2M1046 561.5h4M1052 561.5h2M1184 561.5h3M1188 561.5h2M1201 561.5h2M1204 561.5h3M17 562.5h2M21 562.5h21M44 562.5h4M57 562.5h7M123 562.5h2M135 562.5h2M144 562.5h3M148 562.5h1M174 562.5h2M194 562.5h4M205 562.5h2M387 562.5h25M521 562.5h1M531 562.5h3M557 562.5h1M572 562.5h2M855 562.5h5M882 562.5h2M1003 562.5h3M1014 562.5h1M1027 562.5h2M1040 562.5h1M1050 562.5h2M1187 562.5h1M1203 562.5h1M19 563.5h2M42 563.5h2M64 563.5h5M121 563.5h2M125 563.5h3M134 563.5h1M147 563.5h1M176 563.5h3M192 563.5h2M198 563.5h4M204 563.5h1M412 563.5h2M520 563.5h1M534 563.5h4M556 563.5h1M574 563.5h2M851 563.5h4M1006 563.5h4M1012 563.5h2M1029 563.5h2M1039 563.5h1M69 564.5h2M120 564.5h1M128 564.5h3M132 564.5h2M179 564.5h5M189 564.5h3M202 564.5h2M414 564.5h1M483 564.5h4M519 564.5h1M538 564.5h6M551 564.5h5M576 564.5h2M850 564.5h1M1010 564.5h2M1031 564.5h2M1037 564.5h2M71 565.5h3M90 565.5h5M119 565.5h1M131 565.5h1M184 565.5h5M415 565.5h1M482 565.5h1M487 565.5h6M519 565.5h1M544 565.5h7M578 565.5h2M755 565.5h1M850 565.5h1M1033 565.5h2M1036 565.5h1M74 566.5h5M86 566.5h4M95 566.5h6M118 566.5h1M416 566.5h2M481 566.5h1M493 566.5h2M518 566.5h1M580 566.5h2M754 566.5h1M756 566.5h2M849 566.5h1M1035 566.5h1M79 567.5h7M101 567.5h2M116 567.5h2M418 567.5h1M480 567.5h1M495 567.5h2M517 567.5h1M582 567.5h1M594 567.5h3M738 567.5h3M753 567.5h1M758 567.5h2M849 567.5h1M103 568.5h2M114 568.5h2M419 568.5h18M479 568.5h1M497 568.5h2M502 568.5h8M516 568.5h1M583 568.5h1M592 568.5h2M597 568.5h3M735 568.5h3M741 568.5h1M752 568.5h1M760 568.5h1M769 568.5h12M848 568.5h1M105 569.5h2M108 569.5h6M437 569.5h3M449 569.5h4M479 569.5h1M499 569.5h3M510 569.5h4M516 569.5h1M584 569.5h2M590 569.5h2M600 569.5h3M666 569.5h2M722 569.5h7M732 569.5h3M742 569.5h2M750 569.5h2M761 569.5h2M765 569.5h4M781 569.5h3M847 569.5h1M107 570.5h1M440 570.5h2M445 570.5h4M453 570.5h3M478 570.5h1M514 570.5h2M586 570.5h1M588 570.5h2M603 570.5h2M627 570.5h10M664 570.5h2M668 570.5h1M720 570.5h2M729 570.5h3M744 570.5h1M749 570.5h1M763 570.5h2M784 570.5h3M847 570.5h1M442 571.5h3M456 571.5h2M477 571.5h1M587 571.5h1M605 571.5h3M625 571.5h2M637 571.5h3M662 571.5h2M669 571.5h1M718 571.5h2M745 571.5h2M748 571.5h1M787 571.5h5M835 571.5h1M846 571.5h1M458 572.5h13M476 572.5h1M608 572.5h3M623 572.5h2M640 572.5h3M660 572.5h2M669 572.5h1M716 572.5h2M747 572.5h1M792 572.5h5M834 572.5h1M836 572.5h2M845 572.5h1M471 573.5h5M611 573.5h5M621 573.5h2M643 573.5h17M670 573.5h1M710 573.5h6M797 573.5h3M832 573.5h2M838 573.5h1M845 573.5h1M616 574.5h5M671 574.5h1M699 574.5h11M800 574.5h3M831 574.5h1M839 574.5h2M844 574.5h1M672 575.5h1M697 575.5h2M803 575.5h13M830 575.5h1M841 575.5h2M844 575.5h1M673 576.5h1M696 576.5h1M816 576.5h7M828 576.5h2M843 576.5h1M673 577.5h1M695 577.5h1M823 577.5h5M674 578.5h1M678 578.5h8M693 578.5h2M675 579.5h3M686 579.5h4M692 579.5h1M690 580.5h2" stroke="#00008b" stroke-width="1" fill="none"/>
<text transform="translate(6 519) scale(1.034 1)" fill="#000" stroke="#000" font-size="9.2" text-anchor="start" >RSI(14) 52.1739</text>
</g>
<g id="macd">
<rect x="3" y="617" width="1" height="3" fill="#00008b"/>
<rect x="11" y="617" width="1" height="5" fill="#00008b"/>
<rect x="19" y="617" width="1" height="8" fill="#00008b"/>
<rect x="27" y="617" width="1" height="9" fill="#00008b"/>
<rect x="35" y="617" width="1" height="10" fill="#00008b"/>
<rect x="43" y="617" width="1" height="10" fill="#00008b"/>
<rect x="51" y="617" width="1" height="9" fill="#00008b"/>
<rect x="59" y="617" width="1" height="8" fill="#00008b"/>
<rect x="67" y="617" width="1" height="8" fill="#00008b"/>
<rect x="75" y="617" width="1" height="8" fill="#00008b"/>
<rect x="83" y="617" width="1" height="8" fill="#00008b"/>
<rect x="91" y="617" width="1" height="7" fill="#00008b"/>
<rect x="99" y="617" width="1" height="7" fill="#00008b"/>
<rect x="107" y="617" width="1" height="7" fill="#00008b"/>
<rect x="115" y="617" width="1" height="6" fill="#00008b"/>
<rect x="123" y="617" width="1" height="5" fill="#00008b"/>
<rect x="131" y="617" width="1" height="4" fill="#00008b"/>
<rect x="139" y="617" width="1" height="3" fill="#00008b"/>
<rect x="147" y="617" width="1" height="2" fill="#00008b"/>
<rect x="163" y="617" width="1" height="1" fill="#00008b"/>
<rect x="171" y="617" width="1" height="1" fill="#00008b"/>
<rect x="179" y="617" width="1" height="1" fill="#00008b"/>
<rect x="187" y="617" width="1" height="1" fill="#00008b"/>
<rect x="195" y="617" width="1" height="1" fill="#00008b"/>
<rect x="203" y="617" width="1" height="1" fill="#00008b"/>
<rect x="211" y="617" width="1" height="1" fill="#00008b"/>
<rect x="227" y="617" width="1" height="1" fill="#00008b"/>
<rect x="235" y="615" width="1" height="3" fill="#00008b"/>
<rect x="243" y="614" width="1" height="4" fill="#00008b"/>
<rect x="251" y="613" width="1" height="5" fill="#00008b"/>
<rect x="259" y="613" width="1" height="5" fill="#00008b"/>
<rect x="267" y="613" width="1" height="5" fill="#00008b"/>
<rect x="275" y="613" width="1" height="5" fill="#00008b"/>
<rect x="283" y="612" width="1" height="6" fill="#00008b"/>
<rect x="291" y="610" width="1" height="8" fill="#00008b"/>
<rect x="299" y="610" width="1" height="8" fill="#00008b"/>
<rect x="307" y="611" width="1" height="7" fill="#00008b"/>
<rect x="315" y="613" width="1" height="5" fill="#00008b"/>
<rect x="323" y="615" width="1" height="3" fill="#00008b"/>
<rect x="331" y="616" width="1" height="2" fill="#00008b"/>
<rect x="339" y="617" width="1" height="1" fill="#00008b"/>
<rect x="347" y="616" width="1" height="2" fill="#00008b"/>
<rect x="355" y="617" width="1" height="1" fill="#00008b"/>
<rect x="363" y="617" width="1" height="1" fill="#00008b"/>
<rect x="371" y="617" width="1" height="1" fill="#00008b"/>
<rect x="379" y="617" width="1" height="1" fill="#00008b"/>
<rect x="387" y="617" width="1" height="3" fill="#00008b"/>
<rect x="395" y="617" width="1" height="4" fill="#00008b"/>
<rect x="403" y="617" width="1" height="5" fill="#00008b"/>
<rect x="411" y="617" width="1" height="5" fill="#00008b"/>
<rect x="419" y="617" width="1" height="6" fill="#00008b"/>
<rect x="427" y="617" width="1" height="7" fill="#00008b"/>
<rect x="435" y="617" width="1" height="7" fill="#00008b"/>
<rect x="443" y="617" width="1" height="7" fill="#00008b"/>
<rect x="451" y="617" width="1" height="7" fill="#00008b"/>
<rect x="459" y="617" width="1" height="7" fill="#00008b"/>
<rect x="467" y="617" width="1" height="7" fill="#00008b"/>
<rect x="475" y="617" width="1" height="6" fill="#00008b"/>
<rect x="483" y="617" width="1" height="4" fill="#00008b"/>
<rect x="491" y="617" width="1" height="3" fill="#00008b"/>
<rect x="499" y="617" width="1" height="3" fill="#00008b"/>
<rect x="507" y="617" width="1" height="3" fill="#00008b"/>
<rect x="515" y="617" width="1" height="2" fill="#00008b"/>
<rect x="523" y="617" width="1" height="1" fill="#00008b"/>
<rect x="563" y="616" width="1" height="2" fill="#00008b"/>
<rect x="571" y="616" width="1" height="2" fill="#00008b"/>
<rect x="587" y="617" width="1" height="2" fill="#00008b"/>
<rect x="595" y="617" width="1" height="2" fill="#00008b"/>
<rect x="603" y="617" width="1" height="3" fill="#00008b"/>
<rect x="611" y="617" width="1" height="5" fill="#00008b"/>
<rect x="619" y="617" width="1" height="7" fill="#00008b"/>
<rect x="627" y="617" width="1" height="6" fill="#00008b"/>
<rect x="635" y="617" width="1" height="6" fill="#00008b"/>
<rect x="643" y="617" width="1" height="6" fill="#00008b"/>
<rect x="651" y="617" width="1" height="6" fill="#00008b"/>
<rect x="659" y="617" width="1" height="5" fill="#00008b"/>
<rect x="667" y="617" width="1" height="4" fill="#00008b"/>
<rect x="675" y="617" width="1" height="8" fill="#00008b"/>
<rect x="683" y="617" width="1" height="10" fill="#00008b"/>
<rect x="691" y="617" width="1" height="12" fill="#00008b"/>
<rect x="699" y="617" width="1" height="11" fill="#00008b"/>
<rect x="707" y="617" width="1" height="10" fill="#00008b"/>
<rect x="715" y="617" width="1" height="8" fill="#00008b"/>
<rect x="723" y="617" width="1" height="5" fill="#00008b"/>
<rect x="731" y="617" width="1" height="3" fill="#00008b"/>
<rect x="739" y="617" width="1" height="1" fill="#00008b"/>
<rect x="747" y="617" width="1" height="1" fill="#00008b"/>
<rect x="763" y="617" width="1" height="1" fill="#00008b"/>
<rect x="787" y="617" width="1" height="1" fill="#00008b"/>
<rect x="795" y="617" width="1" height="2" fill="#00008b"/>
<rect x="803" y="617" width="1" height="4" fill="#00008b"/>
<rect x="811" y="617" width="1" height="5" fill="#00008b"/>
<rect x="819" y="617" width="1" height="6" fill="#00008b"/>
<rect x="827" y="617" width="1" height="6" fill="#00008b"/>
<rect x="835" y="617" width="1" height="4" fill="#00008b"/>
<rect x="843" y="617" width="1" height="6" fill="#00008b"/>
<rect x="851" y="617" width="1" height="3" fill="#00008b"/>
<rect x="867" y="613" width="1" height="5" fill="#00008b"/>
<rect x="875" y="612" width="1" height="6" fill="#00008b"/>
<rect x="883" y="612" width="1" height="6" fill="#00008b"/>
<rect x="891" y="609" width="1" height="9" fill="#00008b"/>
<rect x="899" y="609" width="1" height="9" fill="#00008b"/>
<rect x="907" y="604" width="1" height="14" fill="#00008b"/>
<rect x="915" y="603" width="1" height="15" fill="#00008b"/>
<rect x="923" y="603" width="1" height="15" fill="#00008b"/>
<rect x="931" y="603" width="1" height="15" fill="#00008b"/>
<rect x="939" y="606" width="1" height="12" fill="#00008b"/>
<rect x="947" y="610" width="1" height="8" fill="#00008b"/>
<rect x="955" y="612" width="1" height="6" fill="#00008b"/>
<rect x="963" y="614" width="1" height="4" fill="#00008b"/>
<rect x="971" y="613" width="1" height="5" fill="#00008b"/>
<rect x="979" y="612" width="1" height="6" fill="#00008b"/>
<rect x="987" y="614" width="1" height="4" fill="#00008b"/>
<rect x="995" y="617" width="1" height="1" fill="#00008b"/>
<rect x="1003" y="617" width="1" height="1" fill="#00008b"/>
<rect x="1011" y="617" width="1" height="5" fill="#00008b"/>
<rect x="1019" y="617" width="1" height="5" fill="#00008b"/>
<rect x="1027" y="617" width="1" height="6" fill="#00008b"/>
<rect x="1035" y="617" width="1" height="9" fill="#00008b"/>
<rect x="1043" y="617" width="1" height="8" fill="#00008b"/>
<rect x="1051" y="617" width="1" height="8" fill="#00008b"/>
<rect x="1059" y="617" width="1" height="6" fill="#00008b"/>
<rect x="1067" y="617" width="1" height="4" fill="#00008b"/>
<rect x="1075" y="617" width="1" height="2" fill="#00008b"/>
<rect x="1083" y="617" width="1" height="1" fill="#00008b"/>
<rect x="1091" y="617" width="1" height="1" fill="#00008b"/>
<rect x="1099" y="614" width="1" height="4" fill="#00008b"/>
<rect x="1107" y="611" width="1" height="7" fill="#00008b"/>
<rect x="1115" y="610" width="1" height="8" fill="#00008b"/>
<rect x="1123" y="614" width="1" height="4" fill="#00008b"/>
<rect x="1131" y="615" width="1" height="3" fill="#00008b"/>
<rect x="1139" y="614" width="1" height="4" fill="#00008b"/>
<rect x="1147" y="613" width="1" height="5" fill="#00008b"/>
<rect x="1155" y="613" width="1" height="5" fill="#00008b"/>
<rect x="1163" y="614" width="1" height="4" fill="#00008b"/>
<rect x="1171" y="614" width="1" height="4" fill="#00008b"/>
<rect x="1179" y="617" width="1" height="1" fill="#00008b"/>
<rect x="1187" y="617" width="1" height="2" fill="#00008b"/>
<rect x="1195" y="617" width="1" height="2" fill="#00008b"/>
<rect x="1203" y="617" width="1" height="4" fill="#00008b"/>
<rect x="1211" y="617" width="1" height="4" fill="#00008b"/>
<rect x="1219" y="617" width="1" height="2" fill="#00008b"/>
<rect x="1227" y="617" width="1" height="1" fill="#00008b"/>
<rect x="1235" y="615" width="1" height="3" fill="#00008b"/>
<rect x="1243" y="613" width="1" height="5" fill="#00008b"/>
<rect x="1251" y="612" width="1" height="6" fill="#00008b"/>
<rect x="1259" y="609" width="1" height="9" fill="#00008b"/>
<rect x="1267" y="609" width="1" height="9" fill="#00008b"/>
<path d="M3 612.5h2M5 613.5h2M7 614.5h3M10 615.5h2M12 616.5h2M14 617.5h2M302 617.5h9M16 618.5h2M298 618.5h4M311 618.5h8M18 619.5h1M295 619.5h3M319 619.5h9M343 619.5h9M19 620.5h3M293 620.5h2M328 620.5h15M352 620.5h24M22 621.5h2M290 621.5h3M376 621.5h5M24 622.5h2M288 622.5h2M381 622.5h3M26 623.5h2M285 623.5h3M384 623.5h2M28 624.5h3M282 624.5h3M386 624.5h4M31 625.5h3M279 625.5h3M390 625.5h4M34 626.5h2M276 626.5h3M394 626.5h4M1266 626.5h2M36 627.5h3M271 627.5h5M398 627.5h4M1264 627.5h2M39 628.5h3M265 628.5h6M402 628.5h5M1262 628.5h2M42 629.5h5M260 629.5h5M407 629.5h6M1260 629.5h2M47 630.5h8M256 630.5h4M413 630.5h2M1258 630.5h2M55 631.5h6M252 631.5h4M415 631.5h3M1256 631.5h2M61 632.5h4M244 632.5h8M418 632.5h4M1254 632.5h2M65 633.5h5M238 633.5h6M422 633.5h4M1252 633.5h2M70 634.5h5M234 634.5h4M426 634.5h4M1249 634.5h3M75 635.5h4M232 635.5h2M430 635.5h5M1245 635.5h4M79 636.5h5M230 636.5h2M435 636.5h4M978 636.5h7M1242 636.5h3M84 637.5h7M160 637.5h14M228 637.5h2M439 637.5h4M935 637.5h7M975 637.5h3M985 637.5h7M1169 637.5h5M1240 637.5h2M91 638.5h6M154 638.5h6M174 638.5h5M224 638.5h4M443 638.5h6M560 638.5h18M930 638.5h5M942 638.5h4M972 638.5h3M992 638.5h4M1165 638.5h4M1174 638.5h4M1238 638.5h2M97 639.5h5M151 639.5h3M179 639.5h6M220 639.5h4M449 639.5h5M556 639.5h4M578 639.5h4M928 639.5h2M946 639.5h7M966 639.5h6M996 639.5h2M1151 639.5h14M1178 639.5h3M1236 639.5h2M102 640.5h5M148 640.5h3M185 640.5h9M205 640.5h15M454 640.5h5M550 640.5h6M582 640.5h2M926 640.5h2M953 640.5h13M998 640.5h2M1145 640.5h6M1181 640.5h2M1234 640.5h2M107 641.5h6M119 641.5h9M135 641.5h13M194 641.5h11M459 641.5h7M526 641.5h24M584 641.5h3M924 641.5h2M1000 641.5h2M1114 641.5h3M1141 641.5h4M1183 641.5h2M1230 641.5h4M113 642.5h6M128 642.5h7M466 642.5h8M485 642.5h13M517 642.5h9M587 642.5h7M922 642.5h2M1002 642.5h2M1111 642.5h3M1117 642.5h3M1137 642.5h4M1185 642.5h2M1226 642.5h4M474 643.5h11M498 643.5h19M594 643.5h5M920 643.5h2M1004 643.5h2M1108 643.5h3M1120 643.5h3M1133 643.5h4M1187 643.5h10M1224 643.5h2M599 644.5h4M918 644.5h2M1006 644.5h1M1106 644.5h2M1123 644.5h10M1197 644.5h2M1222 644.5h2M603 645.5h3M916 645.5h2M1007 645.5h1M1104 645.5h2M1199 645.5h2M1220 645.5h2M606 646.5h2M914 646.5h2M1008 646.5h2M1102 646.5h2M1201 646.5h2M1217 646.5h3M608 647.5h3M913 647.5h1M1010 647.5h1M1100 647.5h2M1203 647.5h6M1213 647.5h4M611 648.5h3M912 648.5h1M1011 648.5h6M1098 648.5h2M1209 648.5h4M614 649.5h2M911 649.5h1M1017 649.5h5M1096 649.5h2M616 650.5h3M909 650.5h2M1022 650.5h4M1094 650.5h2M619 651.5h6M908 651.5h1M1026 651.5h2M1092 651.5h2M625 652.5h13M907 652.5h1M1028 652.5h2M1086 652.5h6M638 653.5h5M906 653.5h1M1030 653.5h1M1082 653.5h4M643 654.5h4M905 654.5h1M1031 654.5h1M1079 654.5h3M647 655.5h3M662 655.5h6M903 655.5h2M1032 655.5h2M1076 655.5h3M650 656.5h12M668 656.5h1M902 656.5h1M1034 656.5h1M1073 656.5h3M669 657.5h2M901 657.5h1M1035 657.5h6M1069 657.5h4M671 658.5h1M900 658.5h1M1041 658.5h8M1054 658.5h15M672 659.5h1M897 659.5h3M1049 659.5h5M673 660.5h1M894 660.5h3M674 661.5h1M891 661.5h3M675 662.5h2M890 662.5h1M677 663.5h2M888 663.5h2M679 664.5h2M887 664.5h1M681 665.5h2M886 665.5h1M683 666.5h2M884 666.5h2M685 667.5h2M875 667.5h9M687 668.5h2M754 668.5h5M775 668.5h9M872 668.5h3M689 669.5h1M737 669.5h8M749 669.5h5M759 669.5h16M784 669.5h6M870 669.5h2M690 670.5h3M732 670.5h5M745 670.5h4M790 670.5h5M868 670.5h2M693 671.5h3M727 671.5h5M795 671.5h2M866 671.5h2M696 672.5h3M722 672.5h5M797 672.5h3M865 672.5h1M699 673.5h7M717 673.5h5M800 673.5h2M863 673.5h2M706 674.5h11M802 674.5h5M861 674.5h2M807 675.5h6M860 675.5h1M813 676.5h2M858 676.5h2M815 677.5h3M856 677.5h2M818 678.5h6M831 678.5h6M854 678.5h2M824 679.5h7M837 679.5h2M852 679.5h2M839 680.5h2M849 680.5h3M841 681.5h2M845 681.5h4M843 682.5h2" stroke="#006400" stroke-width="1" fill="none"/>
<path d="M3 609.5h3M9 610.5h2M11 611.5h1M15 612.5h3M21 613.5h3M27 614.5h3M33 616.5h3M39 617.5h1M40 618.5h2M45 619.5h1M46 620.5h2M364 620.5h2M369 620.5h3M375 620.5h3M51 621.5h2M345 621.5h3M351 621.5h3M357 621.5h3M363 621.5h1M381 621.5h3M387 621.5h3M53 622.5h1M327 622.5h3M333 622.5h3M339 622.5h3M393 622.5h3M57 623.5h3M315 623.5h3M321 623.5h3M399 623.5h3M63 624.5h3M309 624.5h3M405 624.5h3M69 625.5h3M303 625.5h3M411 625.5h3M75 626.5h1M298 626.5h2M417 626.5h3M76 627.5h2M297 627.5h1M423 627.5h3M81 628.5h1M291 628.5h3M429 628.5h3M82 629.5h2M286 629.5h2M435 629.5h3M87 630.5h3M280 630.5h2M285 630.5h1M441 630.5h1M93 631.5h3M274 631.5h2M279 631.5h1M442 631.5h2M99 632.5h3M273 632.5h1M447 632.5h3M105 633.5h1M267 633.5h3M453 633.5h3M106 634.5h2M261 634.5h3M459 634.5h3M111 635.5h3M255 635.5h3M465 635.5h1M117 636.5h3M244 636.5h2M249 636.5h3M466 636.5h2M471 636.5h1M1265 636.5h1M123 637.5h3M238 637.5h2M243 637.5h1M472 637.5h2M477 637.5h3M1263 637.5h2M129 638.5h3M135 638.5h3M141 638.5h3M147 638.5h3M153 638.5h3M159 638.5h3M165 638.5h3M171 638.5h3M177 638.5h3M183 638.5h1M231 638.5h3M237 638.5h1M483 638.5h3M489 638.5h2M1257 638.5h3M184 639.5h2M189 639.5h3M195 639.5h3M201 639.5h3M207 639.5h1M225 639.5h3M491 639.5h1M495 639.5h3M1253 639.5h1M208 640.5h2M213 640.5h3M219 640.5h3M501 640.5h3M507 640.5h3M513 640.5h1M556 640.5h2M561 640.5h3M567 640.5h3M573 640.5h3M579 640.5h3M585 640.5h2M1251 640.5h2M514 641.5h2M519 641.5h3M525 641.5h3M531 641.5h3M537 641.5h3M543 641.5h3M549 641.5h3M555 641.5h1M587 641.5h1M591 641.5h3M597 641.5h3M603 641.5h3M987 641.5h3M993 641.5h3M999 641.5h3M1005 641.5h1M1169 641.5h1M1173 641.5h3M1179 641.5h3M1185 641.5h3M1240 641.5h2M1245 641.5h3M609 642.5h3M977 642.5h1M981 642.5h3M1006 642.5h2M1167 642.5h2M1191 642.5h3M1197 642.5h3M1233 642.5h3M1239 642.5h1M615 643.5h3M975 643.5h2M1011 643.5h3M1161 643.5h3M1203 643.5h3M1227 643.5h3M621 644.5h1M969 644.5h3M1017 644.5h3M1150 644.5h2M1155 644.5h3M1209 644.5h3M1215 644.5h3M1221 644.5h3M622 645.5h2M963 645.5h3M1023 645.5h3M1143 645.5h3M1149 645.5h1M627 646.5h3M633 646.5h1M953 646.5h1M957 646.5h3M1029 646.5h2M1137 646.5h3M634 647.5h2M639 647.5h1M951 647.5h2M1031 647.5h1M1126 647.5h2M1131 647.5h3M640 648.5h2M945 648.5h3M1035 648.5h3M1119 648.5h3M1125 648.5h1M645 649.5h3M941 649.5h1M1041 649.5h2M1113 649.5h3M651 650.5h3M939 650.5h2M1043 650.5h1M1107 650.5h3M657 651.5h3M663 651.5h1M935 651.5h1M1047 651.5h3M1101 651.5h3M664 652.5h2M669 652.5h1M933 652.5h2M1053 652.5h2M1096 652.5h2M670 653.5h2M1055 653.5h1M1059 653.5h2M1089 653.5h3M1095 653.5h1M675 654.5h3M928 654.5h2M1061 654.5h1M1065 654.5h3M1071 654.5h3M1077 654.5h3M1083 654.5h3M681 655.5h1M927 655.5h1M682 656.5h2M687 657.5h1M922 657.5h2M688 658.5h2M921 658.5h1M693 660.5h3M916 660.5h2M915 661.5h1M699 662.5h3M705 663.5h1M909 663.5h3M706 664.5h2M711 665.5h3M905 665.5h1M717 666.5h1M903 666.5h2M718 667.5h2M723 668.5h3M729 668.5h3M735 668.5h3M741 668.5h1M753 668.5h3M777 668.5h3M783 668.5h1M897 668.5h3M742 669.5h2M747 669.5h3M759 669.5h3M765 669.5h3M771 669.5h3M784 669.5h2M789 669.5h3M795 669.5h3M892 669.5h2M801 670.5h3M807 670.5h1M891 670.5h1M808 671.5h2M813 671.5h3M887 671.5h1M819 672.5h3M885 672.5h2M825 673.5h1M879 673.5h3M826 674.5h2M831 674.5h1M873 674.5h3M832 675.5h2M837 675.5h3M868 675.5h2M843 676.5h3M861 676.5h3M867 676.5h1M849 677.5h3M855 677.5h3" stroke="#ff0000" stroke-width="1" fill="none"/>
<text transform="translate(6.5 609) scale(1.012 1)" fill="#000" stroke="#000" font-size="9.2" text-anchor="start" >MACD(12,26,9) -0.001930 -0.004035 0.002105</text>
</g>
<rect x="1554" y="0" width="42" height="705" fill="#fff"/>
<rect x="0" y="688" width="1596" height="17" fill="#fff"/>
<rect x="0" y="0" width="2" height="705" fill="#fff"/>
<rect x="0" y="0" width="1596" height="2" fill="#fff"/>
<rect x="2" y="2" width="1" height="686" fill="#000"/>
<rect x="1553" y="2" width="1" height="686" fill="#000"/>
<rect x="2" y="2" width="1552" height="1" fill="#000" />
<rect x="2" y="504" width="1552" height="1" fill="#000" />
<rect x="2" y="505" width="1552" height="1" fill="#fff" />
<rect x="2" y="506" width="1552" height="1" fill="#000" />
<rect x="2" y="594" width="1552" height="1" fill="#000" />
<rect x="2" y="595" width="1552" height="1" fill="#fff" />
<rect x="2" y="596" width="1552" height="1" fill="#000" />
<rect x="2" y="687" width="1552" height="1" fill="#000" />
<rect x="156" y="687" width="9" height="1" fill="#fff" />
<rect x="1554" y="6" width="2" height="1" fill="#000" />
<text x="1559" y="8.5" fill="#000" stroke="#000" font-size="9.2" text-anchor="start" >1.39150</text>
<rect x="1554" y="39" width="2" height="1" fill="#000" />
<text x="1559" y="41.5" fill="#000" stroke="#000" font-size="9.2" text-anchor="start" >1.38010</text>
<rect x="1554" y="72" width="2" height="1" fill="#000" />
<text x="1559" y="74.5" fill="#000" stroke="#000" font-size="9.2" text-anchor="start" >1.36870</text>
<rect x="1554" y="105" width="2" height="1" fill="#000" />
<text x="1559" y="107.5" fill="#000" stroke="#000" font-size="9.2" text-anchor="start" >1.35730</text>
<rect x="1554" y="138" width="2" height="1" fill="#000" />
<text x="1559" y="140.5" fill="#000" stroke="#000" font-size="9.2" text-anchor="start" >1.34620</text>
<rect x="1554" y="171" width="2" height="1" fill="#000" />
<text x="1559" y="173.5" fill="#000" stroke="#000" font-size="9.2" text-anchor="start" >1.33480</text>
<rect x="1554" y="204" width="2" height="1" fill="#000" />
<text x="1559" y="206.5" fill="#000" stroke="#000" font-size="9.2" text-anchor="start" >1.32340</text>
<rect x="1554" y="237" width="2" height="1" fill="#000" />
<text x="1559" y="239.5" fill="#000" stroke="#000" font-size="9.2" text-anchor="start" >1.31200</text>
<rect x="1554" y="270" width="2" height="1" fill="#000" />
<text x="1559" y="272.5" fill="#000" stroke="#000" font-size="9.2" text-anchor="start" >1.30060</text>
<rect x="1554" y="303" width="2" height="1" fill="#000" />
<text x="1559" y="305.5" fill="#000" stroke="#000" font-size="9.2" text-anchor="start" >1.28950</text>
<rect x="1554" y="336" width="2" height="1" fill="#000" />
<text x="1559" y="338.5" fill="#000" stroke="#000" font-size="9.2" text-anchor="start" >1.27810</text>
<rect x="1554" y="369" width="2" height="1" fill="#000" />
<text x="1559" y="371.5" fill="#000" stroke="#000" font-size="9.2" text-anchor="start" >1.26670</text>
<rect x="1554" y="402" width="2" height="1" fill="#000" />
<text x="1559" y="404.5" fill="#000" stroke="#000" font-size="9.2" text-anchor="start" >1.25530</text>
<rect x="1554" y="435" width="2" height="1" fill="#000" />
<text x="1559" y="437.5" fill="#000" stroke="#000" font-size="9.2" text-anchor="start" >1.24390</text>
<rect x="1554" y="468" width="2" height="1" fill="#000" />
<text x="1559" y="470.5" fill="#000" stroke="#000" font-size="9.2" text-anchor="start" >1.23280</text>
<rect x="1554" y="501" width="2" height="1" fill="#000" />
<text x="1559" y="503.5" fill="#000" stroke="#000" font-size="9.2" text-anchor="start" >1.22140</text>
<rect x="1556" y="415" width="39" height="11" fill="#000"/>
<text x="1559" y="424" fill="#fff" stroke="#fff" font-size="9.2" text-anchor="start" >1.24880</text>
<text x="1557" y="517" fill="#000" stroke="#000" font-size="9.2" text-anchor="start" >100</text>
<text x="1555" y="536" fill="#000" stroke="#000" font-size="9.2" text-anchor="start" >70</text>
<text x="1555" y="571" fill="#000" stroke="#000" font-size="9.2" text-anchor="start" >30</text>
<text x="1556" y="590" fill="#000" stroke="#000" font-size="9.2" text-anchor="start" >0</text>
<rect x="1554" y="508" width="1" height="1" fill="#000" />
<rect x="1554" y="593" width="1" height="1" fill="#000" />
<rect x="1554" y="598" width="1" height="1" fill="#000" />
<rect x="1554" y="617" width="1" height="1" fill="#000" />
<rect x="1554" y="686" width="1" height="1" fill="#000" />
<text x="1557" y="607" fill="#000" stroke="#000" font-size="9.2" text-anchor="start" >0.004366</text>
<text x="1557" y="620" fill="#000" stroke="#000" font-size="9.2" text-anchor="start" >0.00</text>
<text x="1557" y="683.5" fill="#000" stroke="#000" font-size="9.2" text-anchor="start" >-0.015298</text>
<rect x="3" y="688" width="1" height="3" fill="#000"/>
<text transform="translate(1.8 700) scale(1.055 1)" fill="#000" stroke="#000" font-size="9.2" text-anchor="start" >9 May 2014</text>
<rect x="67" y="688" width="1" height="3" fill="#000"/>
<text transform="translate(65.8 700) scale(1.055 1)" fill="#000" stroke="#000" font-size="9.2" text-anchor="start" >21 May 2014</text>
<rect x="131" y="688" width="1" height="3" fill="#000"/>
<text transform="translate(129.8 700) scale(1.055 1)" fill="#000" stroke="#000" font-size="9.2" text-anchor="start" >2 Jun 2014</text>
<rect x="195" y="688" width="1" height="3" fill="#000"/>
<text transform="translate(193.8 700) scale(1.055 1)" fill="#000" stroke="#000" font-size="9.2" text-anchor="start" >12 Jun 2014</text>
<rect x="259" y="688" width="1" height="3" fill="#000"/>
<text transform="translate(257.8 700) scale(1.055 1)" fill="#000" stroke="#000" font-size="9.2" text-anchor="start" >24 Jun 2014</text>
<rect x="323" y="688" width="1" height="3" fill="#000"/>
<text transform="translate(321.8 700) scale(1.055 1)" fill="#000" stroke="#000" font-size="9.2" text-anchor="start" >4 Jul 2014</text>
<rect x="387" y="688" width="1" height="3" fill="#000"/>
<text transform="translate(385.8 700) scale(1.055 1)" fill="#000" stroke="#000" font-size="9.2" text-anchor="start" >16 Jul 2014</text>
<rect x="451" y="688" width="1" height="3" fill="#000"/>
<text transform="translate(449.8 700) scale(1.055 1)" fill="#000" stroke="#000" font-size="9.2" text-anchor="start" >28 Jul 2014</text>
<rect x="515" y="688" width="1" height="3" fill="#000"/>
<text transform="translate(513.8 700) scale(1.055 1)" fill="#000" stroke="#000" font-size="9.2" text-anchor="start" >7 Aug 2014</text>
<rect x="579" y="688" width="1" height="3" fill="#000"/>
<text transform="translate(577.8 700) scale(1.055 1)" fill="#000" stroke="#000" font-size="9.2" text-anchor="start" >19 Aug 2014</text>
<rect x="643" y="688" width="1" height="3" fill="#000"/>
<text transform="translate(641.8 700) scale(1.055 1)" fill="#000" stroke="#000" font-size="9.2" text-anchor="start" >29 Aug 2014</text>
<rect x="707" y="688" width="1" height="3" fill="#000"/>
<text transform="translate(705.8 700) scale(1.055 1)" fill="#000" stroke="#000" font-size="9.2" text-anchor="start" >10 Sep 2014</text>
<rect x="771" y="688" width="1" height="3" fill="#000"/>
<text transform="translate(769.8 700) scale(1.055 1)" fill="#000" stroke="#000" font-size="9.2" text-anchor="start" >22 Sep 2014</text>
<rect x="835" y="688" width="1" height="3" fill="#000"/>
<text transform="translate(833.8 700) scale(1.055 1)" fill="#000" stroke="#000" font-size="9.2" text-anchor="start" >2 Oct 2014</text>
<rect x="899" y="688" width="1" height="3" fill="#000"/>
<text transform="translate(897.8 700) scale(1.055 1)" fill="#000" stroke="#000" font-size="9.2" text-anchor="start" >14 Oct 2014</text>
<rect x="963" y="688" width="1" height="3" fill="#000"/>
<text transform="translate(961.8 700) scale(1.055 1)" fill="#000" stroke="#000" font-size="9.2" text-anchor="start" >24 Oct 2014</text>
<rect x="1027" y="688" width="1" height="3" fill="#000"/>
<text transform="translate(1025.8 700) scale(1.055 1)" fill="#000" stroke="#000" font-size="9.2" text-anchor="start" >5 Nov 2014</text>
<rect x="1091" y="688" width="1" height="3" fill="#000"/>
<text transform="translate(1089.8 700) scale(1.055 1)" fill="#000" stroke="#000" font-size="9.2" text-anchor="start" >17 Nov 2014</text>
<rect x="1155" y="688" width="1" height="3" fill="#000"/>
<text transform="translate(1153.8 700) scale(1.055 1)" fill="#000" stroke="#000" font-size="9.2" text-anchor="start" >27 Nov 2014</text>
<rect x="1219" y="688" width="1" height="3" fill="#000"/>
<text transform="translate(1217.8 700) scale(1.055 1)" fill="#000" stroke="#000" font-size="9.2" text-anchor="start" >9 Dec 2014</text>
</svg>
</body></html>
